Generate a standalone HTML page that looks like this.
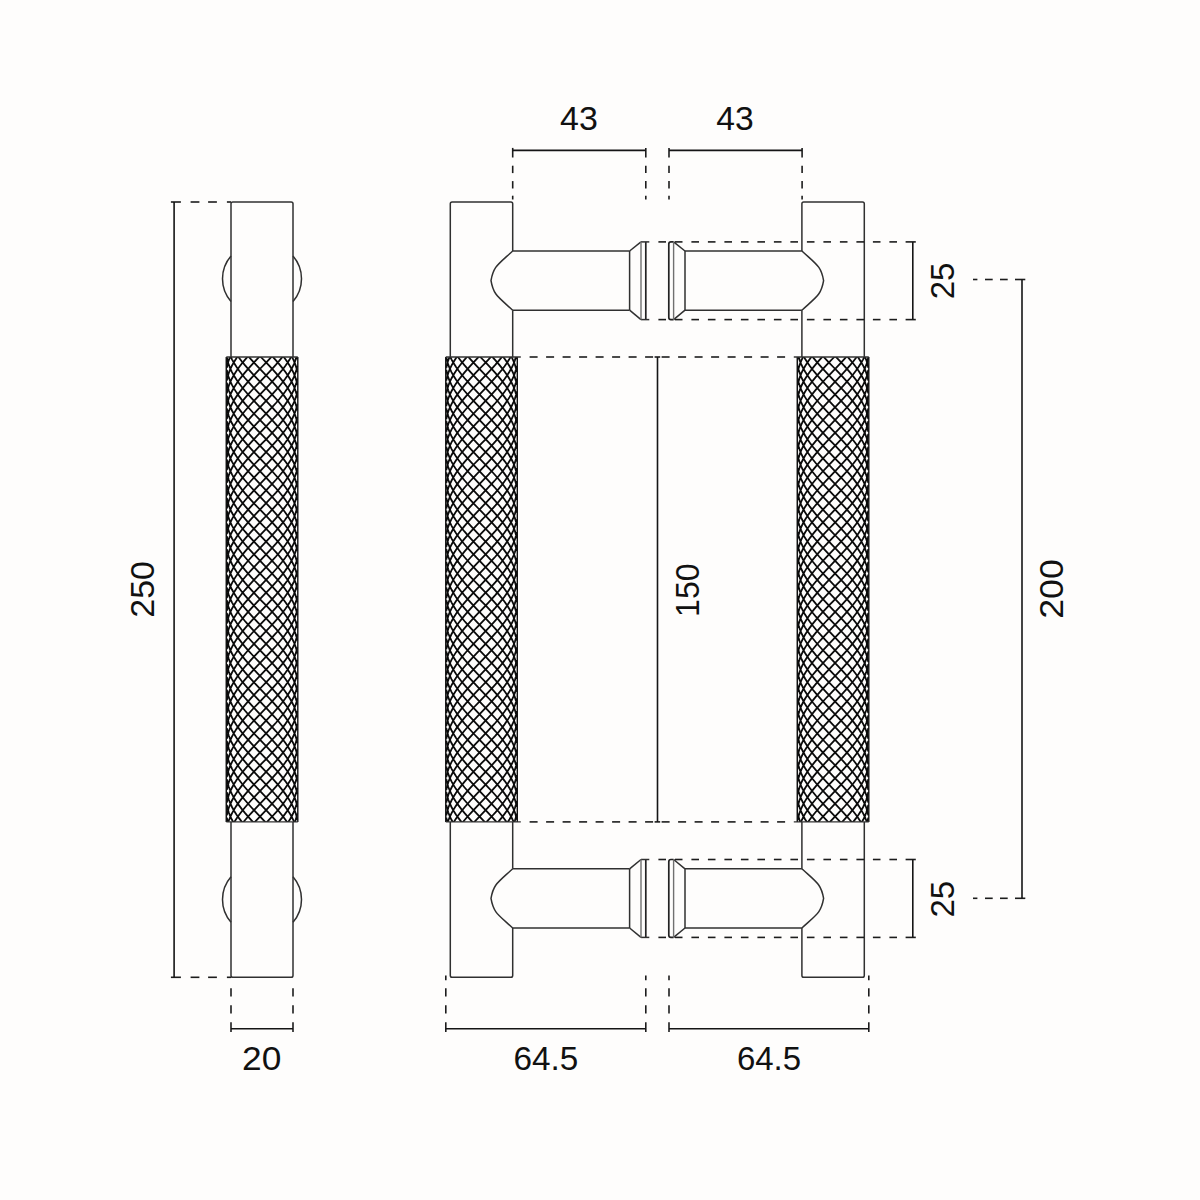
<!DOCTYPE html>
<html><head><meta charset="utf-8"><title>Drawing</title>
<style>html,body{margin:0;padding:0;background:#fefdfc;width:1200px;height:1200px;overflow:hidden}svg{display:block;font-family:"Liberation Sans",sans-serif}</style>
</head><body>
<svg width="1200" height="1200" viewBox="0 0 1200 1200">
<defs><clipPath id="kc0"><rect x="224.3" y="357" width="75.5" height="464.9"/></clipPath><clipPath id="kc1"><rect x="443.8" y="357" width="75.5" height="464.9"/></clipPath><clipPath id="kc2"><rect x="795.3" y="357" width="75.5" height="464.9"/></clipPath></defs>
<rect width="1200" height="1200" fill="#fefdfc"/>
<g fill="none" stroke="#303030" stroke-width="1.5" stroke-linecap="butt" stroke-linejoin="round"><path d="M231 357 L231 203.8 Q231 202 232.8 202 L291.2 202 Q293 202 293 203.8 L293 357"/><path d="M231 821.9 L231 975.5 Q231 977.3 232.8 977.3 L291.2 977.3 Q293 977.3 293 975.5 L293 821.9"/><path d="M231 256.05 A34.7 34.7 0 0 0 231 301.55"/><path d="M293 256.05 A34.7 34.7 0 0 1 293 301.55"/><path d="M231 876.65 A34.7 34.7 0 0 0 231 922.15"/><path d="M293 876.65 A34.7 34.7 0 0 1 293 922.15"/><path d="M450.3 357 L450.3 203.8 Q450.3 202 452.1 202 L510.9 202 Q512.7 202 512.7 203.8 L512.7 251"/><line x1="512.7" y1="310.2" x2="512.7" y2="357"/><path d="M450.3 821.9 L450.3 975.5 Q450.3 977.3 452.1 977.3 L510.9 977.3 Q512.7 977.3 512.7 975.5 L512.7 928"/><line x1="512.7" y1="821.9" x2="512.7" y2="868.8"/><path d="M512.7 251 C497.6 264.85 493.5 266.3 491 280.6 C493.5 294.9 497.6 296.35 512.7 310.2"/><line x1="512.7" y1="251" x2="629.6" y2="251"/><line x1="512.7" y1="310.2" x2="629.6" y2="310.2"/><line x1="629.6" y1="251" x2="629.6" y2="310.2"/><path d="M629.6 251 L641 241.9"/><path d="M629.6 310.2 L641 319.6"/><line x1="645.8" y1="241.9" x2="645.8" y2="319.6" stroke="#222" stroke-width="1.7"/><line x1="641" y1="241.9" x2="649.3" y2="241.9"/><line x1="641" y1="319.6" x2="649.3" y2="319.6"/><path d="M512.7 868.8 C497.6 882.65 493.5 884.1 491 898.4 C493.5 912.7 497.6 914.15 512.7 928"/><line x1="512.7" y1="868.8" x2="629.6" y2="868.8"/><line x1="512.7" y1="928" x2="629.6" y2="928"/><line x1="629.6" y1="868.8" x2="629.6" y2="928"/><path d="M629.6 868.8 L641 859.5"/><path d="M629.6 928 L641 937.4"/><line x1="645.8" y1="859.5" x2="645.8" y2="937.4" stroke="#222" stroke-width="1.7"/><line x1="641" y1="859.5" x2="649.3" y2="859.5"/><line x1="641" y1="937.4" x2="649.3" y2="937.4"/><path d="M864.3 357 L864.3 203.8 Q864.3 202 862.5 202 L803.7 202 Q801.9 202 801.9 203.8 L801.9 251"/><line x1="801.9" y1="310.2" x2="801.9" y2="357"/><path d="M864.3 821.9 L864.3 975.5 Q864.3 977.3 862.5 977.3 L803.7 977.3 Q801.9 977.3 801.9 975.5 L801.9 928"/><line x1="801.9" y1="821.9" x2="801.9" y2="868.8"/><path d="M801.9 251 C817 264.85 821.1 266.3 823.6 280.6 C821.1 294.9 817 296.35 801.9 310.2"/><line x1="801.9" y1="251" x2="685" y2="251"/><line x1="801.9" y1="310.2" x2="685" y2="310.2"/><line x1="685" y1="251" x2="685" y2="310.2"/><path d="M685 251 L673.6 241.9"/><path d="M685 310.2 L673.6 319.6"/><path d="M673.6 241.9 H671 Q668.8 241.9 668.8 244.1 V317.4 Q668.8 319.6 671 319.6 H673.6" stroke="#222" stroke-width="1.7"/><path d="M801.9 868.8 C817 882.65 821.1 884.1 823.6 898.4 C821.1 912.7 817 914.15 801.9 928"/><line x1="801.9" y1="868.8" x2="685" y2="868.8"/><line x1="801.9" y1="928" x2="685" y2="928"/><line x1="685" y1="868.8" x2="685" y2="928"/><path d="M685 868.8 L673.6 859.5"/><path d="M685 928 L673.6 937.4"/><path d="M673.6 859.5 H671 Q668.8 859.5 668.8 861.7 V935.2 Q668.8 937.4 671 937.4 H673.6" stroke="#222" stroke-width="1.7"/></g>
<g fill="none" stroke="#707070" stroke-width="1.4"><line x1="641" y1="241.9" x2="641" y2="319.6"/><line x1="641" y1="859.5" x2="641" y2="937.4"/><line x1="673.6" y1="241.9" x2="673.6" y2="319.6"/><line x1="673.6" y1="859.5" x2="673.6" y2="937.4"/></g>
<g fill="none" stroke="#1c1c1c" stroke-width="1.6"><line x1="170.9" y1="202" x2="180.9" y2="202"/><line x1="190.6" y1="202" x2="199.4" y2="202"/><line x1="208.1" y1="202" x2="216.9" y2="202"/><line x1="226.9" y1="202" x2="231" y2="202"/><line x1="170.9" y1="977.3" x2="180.9" y2="977.3"/><line x1="190.6" y1="977.3" x2="199.4" y2="977.3"/><line x1="208.1" y1="977.3" x2="216.9" y2="977.3"/><line x1="226.9" y1="977.3" x2="231" y2="977.3"/><line x1="512.7" y1="147.9" x2="512.7" y2="157.5"/><line x1="512.7" y1="165.7" x2="512.7" y2="173.1"/><line x1="512.7" y1="181.1" x2="512.7" y2="188.5"/><line x1="512.7" y1="195.7" x2="512.7" y2="199.5"/><line x1="645.8" y1="147.9" x2="645.8" y2="157.5"/><line x1="645.8" y1="165.7" x2="645.8" y2="173.1"/><line x1="645.8" y1="181.1" x2="645.8" y2="188.5"/><line x1="645.8" y1="195.7" x2="645.8" y2="199.5"/><line x1="669" y1="147.9" x2="669" y2="157.5"/><line x1="669" y1="165.7" x2="669" y2="173.1"/><line x1="669" y1="181.1" x2="669" y2="188.5"/><line x1="669" y1="195.7" x2="669" y2="199.5"/><line x1="802.1" y1="147.9" x2="802.1" y2="157.5"/><line x1="802.1" y1="165.7" x2="802.1" y2="173.1"/><line x1="802.1" y1="181.1" x2="802.1" y2="188.5"/><line x1="802.1" y1="195.7" x2="802.1" y2="199.5"/><line x1="231" y1="988.3" x2="231" y2="996.6"/><line x1="231" y1="1005.3" x2="231" y2="1013.5"/><line x1="231" y1="1022.2" x2="231" y2="1031.9"/><line x1="293" y1="988.3" x2="293" y2="996.6"/><line x1="293" y1="1005.3" x2="293" y2="1013.5"/><line x1="293" y1="1022.2" x2="293" y2="1031.9"/><line x1="445.8" y1="975.5" x2="445.8" y2="980.2"/><line x1="445.8" y1="988.3" x2="445.8" y2="996.6"/><line x1="445.8" y1="1005.3" x2="445.8" y2="1013.5"/><line x1="445.8" y1="1022.2" x2="445.8" y2="1031.9"/><line x1="645.8" y1="975.5" x2="645.8" y2="980.2"/><line x1="645.8" y1="988.3" x2="645.8" y2="996.6"/><line x1="645.8" y1="1005.3" x2="645.8" y2="1013.5"/><line x1="645.8" y1="1022.2" x2="645.8" y2="1031.9"/><line x1="669" y1="975.5" x2="669" y2="980.2"/><line x1="669" y1="988.3" x2="669" y2="996.6"/><line x1="669" y1="1005.3" x2="669" y2="1013.5"/><line x1="669" y1="1022.2" x2="669" y2="1031.9"/><line x1="868.8" y1="975.5" x2="868.8" y2="980.2"/><line x1="868.8" y1="988.3" x2="868.8" y2="996.6"/><line x1="868.8" y1="1005.3" x2="868.8" y2="1013.5"/><line x1="868.8" y1="1022.2" x2="868.8" y2="1031.9"/><line x1="658.4" y1="241.9" x2="666" y2="241.9"/><line x1="674.9" y1="241.9" x2="682.5" y2="241.9"/><line x1="691.4" y1="241.9" x2="699" y2="241.9"/><line x1="707.9" y1="241.9" x2="715.5" y2="241.9"/><line x1="724.4" y1="241.9" x2="732" y2="241.9"/><line x1="740.9" y1="241.9" x2="748.5" y2="241.9"/><line x1="757.4" y1="241.9" x2="765" y2="241.9"/><line x1="773.9" y1="241.9" x2="781.5" y2="241.9"/><line x1="790.4" y1="241.9" x2="798" y2="241.9"/><line x1="806.9" y1="241.9" x2="814.5" y2="241.9"/><line x1="823.4" y1="241.9" x2="831" y2="241.9"/><line x1="839.9" y1="241.9" x2="847.5" y2="241.9"/><line x1="856.4" y1="241.9" x2="864" y2="241.9"/><line x1="872.9" y1="241.9" x2="880.5" y2="241.9"/><line x1="889.4" y1="241.9" x2="897" y2="241.9"/><line x1="905.6" y1="241.9" x2="915.8" y2="241.9"/><line x1="658.4" y1="319.6" x2="666" y2="319.6"/><line x1="674.9" y1="319.6" x2="682.5" y2="319.6"/><line x1="691.4" y1="319.6" x2="699" y2="319.6"/><line x1="707.9" y1="319.6" x2="715.5" y2="319.6"/><line x1="724.4" y1="319.6" x2="732" y2="319.6"/><line x1="740.9" y1="319.6" x2="748.5" y2="319.6"/><line x1="757.4" y1="319.6" x2="765" y2="319.6"/><line x1="773.9" y1="319.6" x2="781.5" y2="319.6"/><line x1="790.4" y1="319.6" x2="798" y2="319.6"/><line x1="806.9" y1="319.6" x2="814.5" y2="319.6"/><line x1="823.4" y1="319.6" x2="831" y2="319.6"/><line x1="839.9" y1="319.6" x2="847.5" y2="319.6"/><line x1="856.4" y1="319.6" x2="864" y2="319.6"/><line x1="872.9" y1="319.6" x2="880.5" y2="319.6"/><line x1="889.4" y1="319.6" x2="897" y2="319.6"/><line x1="905.6" y1="319.6" x2="915.8" y2="319.6"/><line x1="658.4" y1="859.5" x2="666" y2="859.5"/><line x1="674.9" y1="859.5" x2="682.5" y2="859.5"/><line x1="691.4" y1="859.5" x2="699" y2="859.5"/><line x1="707.9" y1="859.5" x2="715.5" y2="859.5"/><line x1="724.4" y1="859.5" x2="732" y2="859.5"/><line x1="740.9" y1="859.5" x2="748.5" y2="859.5"/><line x1="757.4" y1="859.5" x2="765" y2="859.5"/><line x1="773.9" y1="859.5" x2="781.5" y2="859.5"/><line x1="790.4" y1="859.5" x2="798" y2="859.5"/><line x1="806.9" y1="859.5" x2="814.5" y2="859.5"/><line x1="823.4" y1="859.5" x2="831" y2="859.5"/><line x1="839.9" y1="859.5" x2="847.5" y2="859.5"/><line x1="856.4" y1="859.5" x2="864" y2="859.5"/><line x1="872.9" y1="859.5" x2="880.5" y2="859.5"/><line x1="889.4" y1="859.5" x2="897" y2="859.5"/><line x1="905.6" y1="859.5" x2="915.8" y2="859.5"/><line x1="658.4" y1="937.4" x2="666" y2="937.4"/><line x1="674.9" y1="937.4" x2="682.5" y2="937.4"/><line x1="691.4" y1="937.4" x2="699" y2="937.4"/><line x1="707.9" y1="937.4" x2="715.5" y2="937.4"/><line x1="724.4" y1="937.4" x2="732" y2="937.4"/><line x1="740.9" y1="937.4" x2="748.5" y2="937.4"/><line x1="757.4" y1="937.4" x2="765" y2="937.4"/><line x1="773.9" y1="937.4" x2="781.5" y2="937.4"/><line x1="790.4" y1="937.4" x2="798" y2="937.4"/><line x1="806.9" y1="937.4" x2="814.5" y2="937.4"/><line x1="823.4" y1="937.4" x2="831" y2="937.4"/><line x1="839.9" y1="937.4" x2="847.5" y2="937.4"/><line x1="856.4" y1="937.4" x2="864" y2="937.4"/><line x1="872.9" y1="937.4" x2="880.5" y2="937.4"/><line x1="889.4" y1="937.4" x2="897" y2="937.4"/><line x1="905.6" y1="937.4" x2="915.8" y2="937.4"/><line x1="529.6" y1="357" x2="537.6" y2="357"/><line x1="546.1" y1="357" x2="554.1" y2="357"/><line x1="562.6" y1="357" x2="570.6" y2="357"/><line x1="579.1" y1="357" x2="587.1" y2="357"/><line x1="595.6" y1="357" x2="603.6" y2="357"/><line x1="612.1" y1="357" x2="620.1" y2="357"/><line x1="628.6" y1="357" x2="636.6" y2="357"/><line x1="645.1" y1="357" x2="653.1" y2="357"/><line x1="661.6" y1="357" x2="669.6" y2="357"/><line x1="678.1" y1="357" x2="686.1" y2="357"/><line x1="694.6" y1="357" x2="702.6" y2="357"/><line x1="711.1" y1="357" x2="719.1" y2="357"/><line x1="727.6" y1="357" x2="735.6" y2="357"/><line x1="744.1" y1="357" x2="752.1" y2="357"/><line x1="760.6" y1="357" x2="768.6" y2="357"/><line x1="777.1" y1="357" x2="785.1" y2="357"/><line x1="654.6" y1="357" x2="660.2" y2="357"/><line x1="529.6" y1="821.9" x2="537.6" y2="821.9"/><line x1="546.1" y1="821.9" x2="554.1" y2="821.9"/><line x1="562.6" y1="821.9" x2="570.6" y2="821.9"/><line x1="579.1" y1="821.9" x2="587.1" y2="821.9"/><line x1="595.6" y1="821.9" x2="603.6" y2="821.9"/><line x1="612.1" y1="821.9" x2="620.1" y2="821.9"/><line x1="628.6" y1="821.9" x2="636.6" y2="821.9"/><line x1="645.1" y1="821.9" x2="653.1" y2="821.9"/><line x1="661.6" y1="821.9" x2="669.6" y2="821.9"/><line x1="678.1" y1="821.9" x2="686.1" y2="821.9"/><line x1="694.6" y1="821.9" x2="702.6" y2="821.9"/><line x1="711.1" y1="821.9" x2="719.1" y2="821.9"/><line x1="727.6" y1="821.9" x2="735.6" y2="821.9"/><line x1="744.1" y1="821.9" x2="752.1" y2="821.9"/><line x1="760.6" y1="821.9" x2="768.6" y2="821.9"/><line x1="777.1" y1="821.9" x2="785.1" y2="821.9"/><line x1="654.6" y1="821.9" x2="660.2" y2="821.9"/><line x1="973" y1="279.5" x2="977.4" y2="279.5"/><line x1="985" y1="279.5" x2="992.7" y2="279.5"/><line x1="1000" y1="279.5" x2="1007.7" y2="279.5"/><line x1="1015" y1="279.5" x2="1025.3" y2="279.5"/><line x1="973" y1="898.3" x2="977.4" y2="898.3"/><line x1="985" y1="898.3" x2="992.7" y2="898.3"/><line x1="1000" y1="898.3" x2="1007.7" y2="898.3"/><line x1="1015" y1="898.3" x2="1025.3" y2="898.3"/></g>
<g fill="none" stroke="#151515" stroke-width="1.6"><line x1="174.1" y1="202" x2="174.1" y2="977.3"/><line x1="231" y1="1028.7" x2="293" y2="1028.7"/><line x1="512.7" y1="150.4" x2="645.8" y2="150.4"/><line x1="669" y1="150.4" x2="802.1" y2="150.4"/><line x1="657.5" y1="357" x2="657.5" y2="821.9"/><line x1="912.8" y1="241.9" x2="912.8" y2="319.6"/><line x1="912.8" y1="859.5" x2="912.8" y2="937.4"/><line x1="1022" y1="279.5" x2="1022" y2="898.3"/><line x1="445.8" y1="1028.8" x2="645.8" y2="1028.8"/><line x1="669" y1="1028.8" x2="868.8" y2="1028.8"/></g>
<g fill="none" stroke="#0a0a0a" stroke-width="1.8"><g clip-path="url(#kc0)"><path d="M226.82 254.89 227.6 258.61 228.73 262.34 230.19 266.07 231.97 269.8 234.05 273.53 236.4 277.26 239.02 280.99 241.86 284.72 244.91 288.44 248.13 292.17 251.49 295.9 254.95 299.63 258.48 303.36 262.05 307.09 265.62 310.82 269.15 314.55 272.61 318.28 275.97 322 279.19 325.73 282.24 329.46 285.08 333.19 287.7 336.92 290.05 340.65 292.13 344.38 293.91 348.11 295.37 351.84 296.5 355.56 297.28 359.29 M226.82 267.68 227.6 271.4 228.73 275.13 230.19 278.86 231.97 282.59 234.05 286.32 236.4 290.05 239.02 293.78 241.86 297.51 244.91 301.23 248.13 304.96 251.49 308.69 254.95 312.42 258.48 316.15 262.05 319.88 265.62 323.61 269.15 327.34 272.61 331.07 275.97 334.79 279.19 338.52 282.24 342.25 285.08 345.98 287.7 349.71 290.05 353.44 292.13 357.17 293.91 360.9 295.37 364.63 296.5 368.35 297.28 372.08 M226.82 280.47 227.6 284.19 228.73 287.92 230.19 291.65 231.97 295.38 234.05 299.11 236.4 302.84 239.02 306.57 241.86 310.3 244.91 314.02 248.13 317.75 251.49 321.48 254.95 325.21 258.48 328.94 262.05 332.67 265.62 336.4 269.15 340.13 272.61 343.86 275.97 347.58 279.19 351.31 282.24 355.04 285.08 358.77 287.7 362.5 290.05 366.23 292.13 369.96 293.91 373.69 295.37 377.42 296.5 381.14 297.28 384.87 M226.82 293.26 227.6 296.98 228.73 300.71 230.19 304.44 231.97 308.17 234.05 311.9 236.4 315.63 239.02 319.36 241.86 323.09 244.91 326.81 248.13 330.54 251.49 334.27 254.95 338 258.48 341.73 262.05 345.46 265.62 349.19 269.15 352.92 272.61 356.65 275.97 360.37 279.19 364.1 282.24 367.83 285.08 371.56 287.7 375.29 290.05 379.02 292.13 382.75 293.91 386.48 295.37 390.21 296.5 393.93 297.28 397.66 M226.82 306.05 227.6 309.77 228.73 313.5 230.19 317.23 231.97 320.96 234.05 324.69 236.4 328.42 239.02 332.15 241.86 335.88 244.91 339.6 248.13 343.33 251.49 347.06 254.95 350.79 258.48 354.52 262.05 358.25 265.62 361.98 269.15 365.71 272.61 369.44 275.97 373.16 279.19 376.89 282.24 380.62 285.08 384.35 287.7 388.08 290.05 391.81 292.13 395.54 293.91 399.27 295.37 403 296.5 406.72 297.28 410.45 M226.82 318.84 227.6 322.56 228.73 326.29 230.19 330.02 231.97 333.75 234.05 337.48 236.4 341.21 239.02 344.94 241.86 348.67 244.91 352.39 248.13 356.12 251.49 359.85 254.95 363.58 258.48 367.31 262.05 371.04 265.62 374.77 269.15 378.5 272.61 382.23 275.97 385.95 279.19 389.68 282.24 393.41 285.08 397.14 287.7 400.87 290.05 404.6 292.13 408.33 293.91 412.06 295.37 415.79 296.5 419.51 297.28 423.24 M226.82 331.63 227.6 335.35 228.73 339.08 230.19 342.81 231.97 346.54 234.05 350.27 236.4 354 239.02 357.73 241.86 361.46 244.91 365.18 248.13 368.91 251.49 372.64 254.95 376.37 258.48 380.1 262.05 383.83 265.62 387.56 269.15 391.29 272.61 395.02 275.97 398.74 279.19 402.47 282.24 406.2 285.08 409.93 287.7 413.66 290.05 417.39 292.13 421.12 293.91 424.85 295.37 428.58 296.5 432.3 297.28 436.03 M226.82 344.42 227.6 348.14 228.73 351.87 230.19 355.6 231.97 359.33 234.05 363.06 236.4 366.79 239.02 370.52 241.86 374.25 244.91 377.97 248.13 381.7 251.49 385.43 254.95 389.16 258.48 392.89 262.05 396.62 265.62 400.35 269.15 404.08 272.61 407.81 275.97 411.53 279.19 415.26 282.24 418.99 285.08 422.72 287.7 426.45 290.05 430.18 292.13 433.91 293.91 437.64 295.37 441.37 296.5 445.09 297.28 448.82 M226.82 357.21 227.6 360.93 228.73 364.66 230.19 368.39 231.97 372.12 234.05 375.85 236.4 379.58 239.02 383.31 241.86 387.04 244.91 390.76 248.13 394.49 251.49 398.22 254.95 401.95 258.48 405.68 262.05 409.41 265.62 413.14 269.15 416.87 272.61 420.6 275.97 424.32 279.19 428.05 282.24 431.78 285.08 435.51 287.7 439.24 290.05 442.97 292.13 446.7 293.91 450.43 295.37 454.16 296.5 457.88 297.28 461.61 M226.82 370 227.6 373.72 228.73 377.45 230.19 381.18 231.97 384.91 234.05 388.64 236.4 392.37 239.02 396.1 241.86 399.83 244.91 403.55 248.13 407.28 251.49 411.01 254.95 414.74 258.48 418.47 262.05 422.2 265.62 425.93 269.15 429.66 272.61 433.39 275.97 437.11 279.19 440.84 282.24 444.57 285.08 448.3 287.7 452.03 290.05 455.76 292.13 459.49 293.91 463.22 295.37 466.95 296.5 470.67 297.28 474.4 M226.82 382.79 227.6 386.51 228.73 390.24 230.19 393.97 231.97 397.7 234.05 401.43 236.4 405.16 239.02 408.89 241.86 412.62 244.91 416.34 248.13 420.07 251.49 423.8 254.95 427.53 258.48 431.26 262.05 434.99 265.62 438.72 269.15 442.45 272.61 446.18 275.97 449.9 279.19 453.63 282.24 457.36 285.08 461.09 287.7 464.82 290.05 468.55 292.13 472.28 293.91 476.01 295.37 479.74 296.5 483.46 297.28 487.19 M226.82 395.58 227.6 399.3 228.73 403.03 230.19 406.76 231.97 410.49 234.05 414.22 236.4 417.95 239.02 421.68 241.86 425.41 244.91 429.13 248.13 432.86 251.49 436.59 254.95 440.32 258.48 444.05 262.05 447.78 265.62 451.51 269.15 455.24 272.61 458.97 275.97 462.69 279.19 466.42 282.24 470.15 285.08 473.88 287.7 477.61 290.05 481.34 292.13 485.07 293.91 488.8 295.37 492.53 296.5 496.25 297.28 499.98 M226.82 408.37 227.6 412.09 228.73 415.82 230.19 419.55 231.97 423.28 234.05 427.01 236.4 430.74 239.02 434.47 241.86 438.2 244.91 441.92 248.13 445.65 251.49 449.38 254.95 453.11 258.48 456.84 262.05 460.57 265.62 464.3 269.15 468.03 272.61 471.76 275.97 475.48 279.19 479.21 282.24 482.94 285.08 486.67 287.7 490.4 290.05 494.13 292.13 497.86 293.91 501.59 295.37 505.32 296.5 509.04 297.28 512.77 M226.82 421.16 227.6 424.88 228.73 428.61 230.19 432.34 231.97 436.07 234.05 439.8 236.4 443.53 239.02 447.26 241.86 450.99 244.91 454.71 248.13 458.44 251.49 462.17 254.95 465.9 258.48 469.63 262.05 473.36 265.62 477.09 269.15 480.82 272.61 484.55 275.97 488.27 279.19 492 282.24 495.73 285.08 499.46 287.7 503.19 290.05 506.92 292.13 510.65 293.91 514.38 295.37 518.11 296.5 521.83 297.28 525.56 M226.82 433.95 227.6 437.67 228.73 441.4 230.19 445.13 231.97 448.86 234.05 452.59 236.4 456.32 239.02 460.05 241.86 463.78 244.91 467.5 248.13 471.23 251.49 474.96 254.95 478.69 258.48 482.42 262.05 486.15 265.62 489.88 269.15 493.61 272.61 497.34 275.97 501.06 279.19 504.79 282.24 508.52 285.08 512.25 287.7 515.98 290.05 519.71 292.13 523.44 293.91 527.17 295.37 530.9 296.5 534.62 297.28 538.35 M226.82 446.74 227.6 450.46 228.73 454.19 230.19 457.92 231.97 461.65 234.05 465.38 236.4 469.11 239.02 472.84 241.86 476.57 244.91 480.29 248.13 484.02 251.49 487.75 254.95 491.48 258.48 495.21 262.05 498.94 265.62 502.67 269.15 506.4 272.61 510.13 275.97 513.85 279.19 517.58 282.24 521.31 285.08 525.04 287.7 528.77 290.05 532.5 292.13 536.23 293.91 539.96 295.37 543.69 296.5 547.41 297.28 551.14 M226.82 459.53 227.6 463.25 228.73 466.98 230.19 470.71 231.97 474.44 234.05 478.17 236.4 481.9 239.02 485.63 241.86 489.36 244.91 493.08 248.13 496.81 251.49 500.54 254.95 504.27 258.48 508 262.05 511.73 265.62 515.46 269.15 519.19 272.61 522.92 275.97 526.64 279.19 530.37 282.24 534.1 285.08 537.83 287.7 541.56 290.05 545.29 292.13 549.02 293.91 552.75 295.37 556.48 296.5 560.2 297.28 563.93 M226.82 472.32 227.6 476.04 228.73 479.77 230.19 483.5 231.97 487.23 234.05 490.96 236.4 494.69 239.02 498.42 241.86 502.15 244.91 505.87 248.13 509.6 251.49 513.33 254.95 517.06 258.48 520.79 262.05 524.52 265.62 528.25 269.15 531.98 272.61 535.71 275.97 539.43 279.19 543.16 282.24 546.89 285.08 550.62 287.7 554.35 290.05 558.08 292.13 561.81 293.91 565.54 295.37 569.27 296.5 572.99 297.28 576.72 M226.82 485.11 227.6 488.83 228.73 492.56 230.19 496.29 231.97 500.02 234.05 503.75 236.4 507.48 239.02 511.21 241.86 514.94 244.91 518.66 248.13 522.39 251.49 526.12 254.95 529.85 258.48 533.58 262.05 537.31 265.62 541.04 269.15 544.77 272.61 548.5 275.97 552.22 279.19 555.95 282.24 559.68 285.08 563.41 287.7 567.14 290.05 570.87 292.13 574.6 293.91 578.33 295.37 582.06 296.5 585.78 297.28 589.51 M226.82 497.9 227.6 501.62 228.73 505.35 230.19 509.08 231.97 512.81 234.05 516.54 236.4 520.27 239.02 524 241.86 527.73 244.91 531.45 248.13 535.18 251.49 538.91 254.95 542.64 258.48 546.37 262.05 550.1 265.62 553.83 269.15 557.56 272.61 561.29 275.97 565.01 279.19 568.74 282.24 572.47 285.08 576.2 287.7 579.93 290.05 583.66 292.13 587.39 293.91 591.12 295.37 594.85 296.5 598.57 297.28 602.3 M226.82 510.69 227.6 514.41 228.73 518.14 230.19 521.87 231.97 525.6 234.05 529.33 236.4 533.06 239.02 536.79 241.86 540.52 244.91 544.24 248.13 547.97 251.49 551.7 254.95 555.43 258.48 559.16 262.05 562.89 265.62 566.62 269.15 570.35 272.61 574.08 275.97 577.8 279.19 581.53 282.24 585.26 285.08 588.99 287.7 592.72 290.05 596.45 292.13 600.18 293.91 603.91 295.37 607.64 296.5 611.36 297.28 615.09 M226.82 523.48 227.6 527.2 228.73 530.93 230.19 534.66 231.97 538.39 234.05 542.12 236.4 545.85 239.02 549.58 241.86 553.31 244.91 557.03 248.13 560.76 251.49 564.49 254.95 568.22 258.48 571.95 262.05 575.68 265.62 579.41 269.15 583.14 272.61 586.87 275.97 590.59 279.19 594.32 282.24 598.05 285.08 601.78 287.7 605.51 290.05 609.24 292.13 612.97 293.91 616.7 295.37 620.43 296.5 624.15 297.28 627.88 M226.82 536.27 227.6 539.99 228.73 543.72 230.19 547.45 231.97 551.18 234.05 554.91 236.4 558.64 239.02 562.37 241.86 566.1 244.91 569.82 248.13 573.55 251.49 577.28 254.95 581.01 258.48 584.74 262.05 588.47 265.62 592.2 269.15 595.93 272.61 599.66 275.97 603.38 279.19 607.11 282.24 610.84 285.08 614.57 287.7 618.3 290.05 622.03 292.13 625.76 293.91 629.49 295.37 633.22 296.5 636.94 297.28 640.67 M226.82 549.06 227.6 552.78 228.73 556.51 230.19 560.24 231.97 563.97 234.05 567.7 236.4 571.43 239.02 575.16 241.86 578.89 244.91 582.61 248.13 586.34 251.49 590.07 254.95 593.8 258.48 597.53 262.05 601.26 265.62 604.99 269.15 608.72 272.61 612.45 275.97 616.17 279.19 619.9 282.24 623.63 285.08 627.36 287.7 631.09 290.05 634.82 292.13 638.55 293.91 642.28 295.37 646.01 296.5 649.73 297.28 653.46 M226.82 561.85 227.6 565.57 228.73 569.3 230.19 573.03 231.97 576.76 234.05 580.49 236.4 584.22 239.02 587.95 241.86 591.68 244.91 595.4 248.13 599.13 251.49 602.86 254.95 606.59 258.48 610.32 262.05 614.05 265.62 617.78 269.15 621.51 272.61 625.24 275.97 628.96 279.19 632.69 282.24 636.42 285.08 640.15 287.7 643.88 290.05 647.61 292.13 651.34 293.91 655.07 295.37 658.8 296.5 662.52 297.28 666.25 M226.82 574.64 227.6 578.36 228.73 582.09 230.19 585.82 231.97 589.55 234.05 593.28 236.4 597.01 239.02 600.74 241.86 604.47 244.91 608.19 248.13 611.92 251.49 615.65 254.95 619.38 258.48 623.11 262.05 626.84 265.62 630.57 269.15 634.3 272.61 638.03 275.97 641.75 279.19 645.48 282.24 649.21 285.08 652.94 287.7 656.67 290.05 660.4 292.13 664.13 293.91 667.86 295.37 671.59 296.5 675.31 297.28 679.04 M226.82 587.43 227.6 591.15 228.73 594.88 230.19 598.61 231.97 602.34 234.05 606.07 236.4 609.8 239.02 613.53 241.86 617.26 244.91 620.98 248.13 624.71 251.49 628.44 254.95 632.17 258.48 635.9 262.05 639.63 265.62 643.36 269.15 647.09 272.61 650.82 275.97 654.54 279.19 658.27 282.24 662 285.08 665.73 287.7 669.46 290.05 673.19 292.13 676.92 293.91 680.65 295.37 684.38 296.5 688.1 297.28 691.83 M226.82 600.22 227.6 603.94 228.73 607.67 230.19 611.4 231.97 615.13 234.05 618.86 236.4 622.59 239.02 626.32 241.86 630.05 244.91 633.77 248.13 637.5 251.49 641.23 254.95 644.96 258.48 648.69 262.05 652.42 265.62 656.15 269.15 659.88 272.61 663.61 275.97 667.33 279.19 671.06 282.24 674.79 285.08 678.52 287.7 682.25 290.05 685.98 292.13 689.71 293.91 693.44 295.37 697.17 296.5 700.89 297.28 704.62 M226.82 613.01 227.6 616.73 228.73 620.46 230.19 624.19 231.97 627.92 234.05 631.65 236.4 635.38 239.02 639.11 241.86 642.84 244.91 646.56 248.13 650.29 251.49 654.02 254.95 657.75 258.48 661.48 262.05 665.21 265.62 668.94 269.15 672.67 272.61 676.4 275.97 680.12 279.19 683.85 282.24 687.58 285.08 691.31 287.7 695.04 290.05 698.77 292.13 702.5 293.91 706.23 295.37 709.96 296.5 713.68 297.28 717.41 M226.82 625.8 227.6 629.52 228.73 633.25 230.19 636.98 231.97 640.71 234.05 644.44 236.4 648.17 239.02 651.9 241.86 655.63 244.91 659.35 248.13 663.08 251.49 666.81 254.95 670.54 258.48 674.27 262.05 678 265.62 681.73 269.15 685.46 272.61 689.19 275.97 692.91 279.19 696.64 282.24 700.37 285.08 704.1 287.7 707.83 290.05 711.56 292.13 715.29 293.91 719.02 295.37 722.75 296.5 726.47 297.28 730.2 M226.82 638.59 227.6 642.31 228.73 646.04 230.19 649.77 231.97 653.5 234.05 657.23 236.4 660.96 239.02 664.69 241.86 668.42 244.91 672.14 248.13 675.87 251.49 679.6 254.95 683.33 258.48 687.06 262.05 690.79 265.62 694.52 269.15 698.25 272.61 701.98 275.97 705.7 279.19 709.43 282.24 713.16 285.08 716.89 287.7 720.62 290.05 724.35 292.13 728.08 293.91 731.81 295.37 735.54 296.5 739.26 297.28 742.99 M226.82 651.38 227.6 655.1 228.73 658.83 230.19 662.56 231.97 666.29 234.05 670.02 236.4 673.75 239.02 677.48 241.86 681.21 244.91 684.93 248.13 688.66 251.49 692.39 254.95 696.12 258.48 699.85 262.05 703.58 265.62 707.31 269.15 711.04 272.61 714.77 275.97 718.49 279.19 722.22 282.24 725.95 285.08 729.68 287.7 733.41 290.05 737.14 292.13 740.87 293.91 744.6 295.37 748.33 296.5 752.05 297.28 755.78 M226.82 664.17 227.6 667.89 228.73 671.62 230.19 675.35 231.97 679.08 234.05 682.81 236.4 686.54 239.02 690.27 241.86 694 244.91 697.72 248.13 701.45 251.49 705.18 254.95 708.91 258.48 712.64 262.05 716.37 265.62 720.1 269.15 723.83 272.61 727.56 275.97 731.28 279.19 735.01 282.24 738.74 285.08 742.47 287.7 746.2 290.05 749.93 292.13 753.66 293.91 757.39 295.37 761.12 296.5 764.84 297.28 768.57 M226.82 676.96 227.6 680.68 228.73 684.41 230.19 688.14 231.97 691.87 234.05 695.6 236.4 699.33 239.02 703.06 241.86 706.79 244.91 710.51 248.13 714.24 251.49 717.97 254.95 721.7 258.48 725.43 262.05 729.16 265.62 732.89 269.15 736.62 272.61 740.35 275.97 744.07 279.19 747.8 282.24 751.53 285.08 755.26 287.7 758.99 290.05 762.72 292.13 766.45 293.91 770.18 295.37 773.91 296.5 777.63 297.28 781.36 M226.82 689.75 227.6 693.47 228.73 697.2 230.19 700.93 231.97 704.66 234.05 708.39 236.4 712.12 239.02 715.85 241.86 719.58 244.91 723.3 248.13 727.03 251.49 730.76 254.95 734.49 258.48 738.22 262.05 741.95 265.62 745.68 269.15 749.41 272.61 753.14 275.97 756.86 279.19 760.59 282.24 764.32 285.08 768.05 287.7 771.78 290.05 775.51 292.13 779.24 293.91 782.97 295.37 786.7 296.5 790.42 297.28 794.15 M226.82 702.54 227.6 706.26 228.73 709.99 230.19 713.72 231.97 717.45 234.05 721.18 236.4 724.91 239.02 728.64 241.86 732.37 244.91 736.09 248.13 739.82 251.49 743.55 254.95 747.28 258.48 751.01 262.05 754.74 265.62 758.47 269.15 762.2 272.61 765.93 275.97 769.65 279.19 773.38 282.24 777.11 285.08 780.84 287.7 784.57 290.05 788.3 292.13 792.03 293.91 795.76 295.37 799.49 296.5 803.21 297.28 806.94 M226.82 715.33 227.6 719.05 228.73 722.78 230.19 726.51 231.97 730.24 234.05 733.97 236.4 737.7 239.02 741.43 241.86 745.16 244.91 748.88 248.13 752.61 251.49 756.34 254.95 760.07 258.48 763.8 262.05 767.53 265.62 771.26 269.15 774.99 272.61 778.72 275.97 782.44 279.19 786.17 282.24 789.9 285.08 793.63 287.7 797.36 290.05 801.09 292.13 804.82 293.91 808.55 295.37 812.28 296.5 816 297.28 819.73 M226.82 728.12 227.6 731.84 228.73 735.57 230.19 739.3 231.97 743.03 234.05 746.76 236.4 750.49 239.02 754.22 241.86 757.95 244.91 761.67 248.13 765.4 251.49 769.13 254.95 772.86 258.48 776.59 262.05 780.32 265.62 784.05 269.15 787.78 272.61 791.51 275.97 795.23 279.19 798.96 282.24 802.69 285.08 806.42 287.7 810.15 290.05 813.88 292.13 817.61 293.91 821.34 295.37 825.07 296.5 828.79 297.28 832.52 M226.82 740.91 227.6 744.63 228.73 748.36 230.19 752.09 231.97 755.82 234.05 759.55 236.4 763.28 239.02 767.01 241.86 770.74 244.91 774.46 248.13 778.19 251.49 781.92 254.95 785.65 258.48 789.38 262.05 793.11 265.62 796.84 269.15 800.57 272.61 804.3 275.97 808.02 279.19 811.75 282.24 815.48 285.08 819.21 287.7 822.94 290.05 826.67 292.13 830.4 293.91 834.13 295.37 837.86 296.5 841.58 297.28 845.31 M226.82 753.7 227.6 757.42 228.73 761.15 230.19 764.88 231.97 768.61 234.05 772.34 236.4 776.07 239.02 779.8 241.86 783.53 244.91 787.25 248.13 790.98 251.49 794.71 254.95 798.44 258.48 802.17 262.05 805.9 265.62 809.63 269.15 813.36 272.61 817.09 275.97 820.81 279.19 824.54 282.24 828.27 285.08 832 287.7 835.73 290.05 839.46 292.13 843.19 293.91 846.92 295.37 850.65 296.5 854.37 297.28 858.1 M226.82 766.49 227.6 770.21 228.73 773.94 230.19 777.67 231.97 781.4 234.05 785.13 236.4 788.86 239.02 792.59 241.86 796.32 244.91 800.04 248.13 803.77 251.49 807.5 254.95 811.23 258.48 814.96 262.05 818.69 265.62 822.42 269.15 826.15 272.61 829.88 275.97 833.6 279.19 837.33 282.24 841.06 285.08 844.79 287.7 848.52 290.05 852.25 292.13 855.98 293.91 859.71 295.37 863.44 296.5 867.16 297.28 870.89 M226.82 779.28 227.6 783 228.73 786.73 230.19 790.46 231.97 794.19 234.05 797.92 236.4 801.65 239.02 805.38 241.86 809.11 244.91 812.83 248.13 816.56 251.49 820.29 254.95 824.02 258.48 827.75 262.05 831.48 265.62 835.21 269.15 838.94 272.61 842.67 275.97 846.39 279.19 850.12 282.24 853.85 285.08 857.58 287.7 861.31 290.05 865.04 292.13 868.77 293.91 872.5 295.37 876.23 296.5 879.95 297.28 883.68 M226.82 792.07 227.6 795.79 228.73 799.52 230.19 803.25 231.97 806.98 234.05 810.71 236.4 814.44 239.02 818.17 241.86 821.9 244.91 825.62 248.13 829.35 251.49 833.08 254.95 836.81 258.48 840.54 262.05 844.27 265.62 848 269.15 851.73 272.61 855.46 275.97 859.18 279.19 862.91 282.24 866.64 285.08 870.37 287.7 874.1 290.05 877.83 292.13 881.56 293.91 885.29 295.37 889.02 296.5 892.74 297.28 896.47 M226.82 804.86 227.6 808.58 228.73 812.31 230.19 816.04 231.97 819.77 234.05 823.5 236.4 827.23 239.02 830.96 241.86 834.69 244.91 838.41 248.13 842.14 251.49 845.87 254.95 849.6 258.48 853.33 262.05 857.06 265.62 860.79 269.15 864.52 272.61 868.25 275.97 871.97 279.19 875.7 282.24 879.43 285.08 883.16 287.7 886.89 290.05 890.62 292.13 894.35 293.91 898.08 295.37 901.81 296.5 905.53 297.28 909.26 M226.82 817.65 227.6 821.37 228.73 825.1 230.19 828.83 231.97 832.56 234.05 836.29 236.4 840.02 239.02 843.75 241.86 847.48 244.91 851.2 248.13 854.93 251.49 858.66 254.95 862.39 258.48 866.12 262.05 869.85 265.62 873.58 269.15 877.31 272.61 881.04 275.97 884.76 279.19 888.49 282.24 892.22 285.08 895.95 287.7 899.68 290.05 903.41 292.13 907.14 293.91 910.87 295.37 914.6 296.5 918.32 297.28 922.05 M226.82 355 227.6 351.28 228.73 347.55 230.19 343.82 231.97 340.09 234.05 336.36 236.4 332.63 239.02 328.9 241.86 325.17 244.91 321.45 248.13 317.72 251.49 313.99 254.95 310.26 258.48 306.53 262.05 302.8 265.62 299.07 269.15 295.34 272.61 291.61 275.97 287.89 279.19 284.16 282.24 280.43 285.08 276.7 287.7 272.97 290.05 269.24 292.13 265.51 293.91 261.78 295.37 258.05 296.5 254.33 297.28 250.6 M226.82 367.79 227.6 364.07 228.73 360.34 230.19 356.61 231.97 352.88 234.05 349.15 236.4 345.42 239.02 341.69 241.86 337.96 244.91 334.24 248.13 330.51 251.49 326.78 254.95 323.05 258.48 319.32 262.05 315.59 265.62 311.86 269.15 308.13 272.61 304.4 275.97 300.68 279.19 296.95 282.24 293.22 285.08 289.49 287.7 285.76 290.05 282.03 292.13 278.3 293.91 274.57 295.37 270.84 296.5 267.12 297.28 263.39 M226.82 380.58 227.6 376.86 228.73 373.13 230.19 369.4 231.97 365.67 234.05 361.94 236.4 358.21 239.02 354.48 241.86 350.75 244.91 347.03 248.13 343.3 251.49 339.57 254.95 335.84 258.48 332.11 262.05 328.38 265.62 324.65 269.15 320.92 272.61 317.19 275.97 313.47 279.19 309.74 282.24 306.01 285.08 302.28 287.7 298.55 290.05 294.82 292.13 291.09 293.91 287.36 295.37 283.63 296.5 279.91 297.28 276.18 M226.82 393.37 227.6 389.65 228.73 385.92 230.19 382.19 231.97 378.46 234.05 374.73 236.4 371 239.02 367.27 241.86 363.54 244.91 359.82 248.13 356.09 251.49 352.36 254.95 348.63 258.48 344.9 262.05 341.17 265.62 337.44 269.15 333.71 272.61 329.98 275.97 326.26 279.19 322.53 282.24 318.8 285.08 315.07 287.7 311.34 290.05 307.61 292.13 303.88 293.91 300.15 295.37 296.42 296.5 292.7 297.28 288.97 M226.82 406.16 227.6 402.44 228.73 398.71 230.19 394.98 231.97 391.25 234.05 387.52 236.4 383.79 239.02 380.06 241.86 376.33 244.91 372.61 248.13 368.88 251.49 365.15 254.95 361.42 258.48 357.69 262.05 353.96 265.62 350.23 269.15 346.5 272.61 342.77 275.97 339.05 279.19 335.32 282.24 331.59 285.08 327.86 287.7 324.13 290.05 320.4 292.13 316.67 293.91 312.94 295.37 309.21 296.5 305.49 297.28 301.76 M226.82 418.95 227.6 415.23 228.73 411.5 230.19 407.77 231.97 404.04 234.05 400.31 236.4 396.58 239.02 392.85 241.86 389.12 244.91 385.4 248.13 381.67 251.49 377.94 254.95 374.21 258.48 370.48 262.05 366.75 265.62 363.02 269.15 359.29 272.61 355.56 275.97 351.84 279.19 348.11 282.24 344.38 285.08 340.65 287.7 336.92 290.05 333.19 292.13 329.46 293.91 325.73 295.37 322 296.5 318.28 297.28 314.55 M226.82 431.74 227.6 428.02 228.73 424.29 230.19 420.56 231.97 416.83 234.05 413.1 236.4 409.37 239.02 405.64 241.86 401.91 244.91 398.19 248.13 394.46 251.49 390.73 254.95 387 258.48 383.27 262.05 379.54 265.62 375.81 269.15 372.08 272.61 368.35 275.97 364.63 279.19 360.9 282.24 357.17 285.08 353.44 287.7 349.71 290.05 345.98 292.13 342.25 293.91 338.52 295.37 334.79 296.5 331.07 297.28 327.34 M226.82 444.53 227.6 440.81 228.73 437.08 230.19 433.35 231.97 429.62 234.05 425.89 236.4 422.16 239.02 418.43 241.86 414.7 244.91 410.98 248.13 407.25 251.49 403.52 254.95 399.79 258.48 396.06 262.05 392.33 265.62 388.6 269.15 384.87 272.61 381.14 275.97 377.42 279.19 373.69 282.24 369.96 285.08 366.23 287.7 362.5 290.05 358.77 292.13 355.04 293.91 351.31 295.37 347.58 296.5 343.86 297.28 340.13 M226.82 457.32 227.6 453.6 228.73 449.87 230.19 446.14 231.97 442.41 234.05 438.68 236.4 434.95 239.02 431.22 241.86 427.49 244.91 423.77 248.13 420.04 251.49 416.31 254.95 412.58 258.48 408.85 262.05 405.12 265.62 401.39 269.15 397.66 272.61 393.93 275.97 390.21 279.19 386.48 282.24 382.75 285.08 379.02 287.7 375.29 290.05 371.56 292.13 367.83 293.91 364.1 295.37 360.37 296.5 356.65 297.28 352.92 M226.82 470.11 227.6 466.39 228.73 462.66 230.19 458.93 231.97 455.2 234.05 451.47 236.4 447.74 239.02 444.01 241.86 440.28 244.91 436.56 248.13 432.83 251.49 429.1 254.95 425.37 258.48 421.64 262.05 417.91 265.62 414.18 269.15 410.45 272.61 406.72 275.97 403 279.19 399.27 282.24 395.54 285.08 391.81 287.7 388.08 290.05 384.35 292.13 380.62 293.91 376.89 295.37 373.16 296.5 369.44 297.28 365.71 M226.82 482.9 227.6 479.18 228.73 475.45 230.19 471.72 231.97 467.99 234.05 464.26 236.4 460.53 239.02 456.8 241.86 453.07 244.91 449.35 248.13 445.62 251.49 441.89 254.95 438.16 258.48 434.43 262.05 430.7 265.62 426.97 269.15 423.24 272.61 419.51 275.97 415.79 279.19 412.06 282.24 408.33 285.08 404.6 287.7 400.87 290.05 397.14 292.13 393.41 293.91 389.68 295.37 385.95 296.5 382.23 297.28 378.5 M226.82 495.69 227.6 491.97 228.73 488.24 230.19 484.51 231.97 480.78 234.05 477.05 236.4 473.32 239.02 469.59 241.86 465.86 244.91 462.14 248.13 458.41 251.49 454.68 254.95 450.95 258.48 447.22 262.05 443.49 265.62 439.76 269.15 436.03 272.61 432.3 275.97 428.58 279.19 424.85 282.24 421.12 285.08 417.39 287.7 413.66 290.05 409.93 292.13 406.2 293.91 402.47 295.37 398.74 296.5 395.02 297.28 391.29 M226.82 508.48 227.6 504.76 228.73 501.03 230.19 497.3 231.97 493.57 234.05 489.84 236.4 486.11 239.02 482.38 241.86 478.65 244.91 474.93 248.13 471.2 251.49 467.47 254.95 463.74 258.48 460.01 262.05 456.28 265.62 452.55 269.15 448.82 272.61 445.09 275.97 441.37 279.19 437.64 282.24 433.91 285.08 430.18 287.7 426.45 290.05 422.72 292.13 418.99 293.91 415.26 295.37 411.53 296.5 407.81 297.28 404.08 M226.82 521.27 227.6 517.55 228.73 513.82 230.19 510.09 231.97 506.36 234.05 502.63 236.4 498.9 239.02 495.17 241.86 491.44 244.91 487.72 248.13 483.99 251.49 480.26 254.95 476.53 258.48 472.8 262.05 469.07 265.62 465.34 269.15 461.61 272.61 457.88 275.97 454.16 279.19 450.43 282.24 446.7 285.08 442.97 287.7 439.24 290.05 435.51 292.13 431.78 293.91 428.05 295.37 424.32 296.5 420.6 297.28 416.87 M226.82 534.06 227.6 530.34 228.73 526.61 230.19 522.88 231.97 519.15 234.05 515.42 236.4 511.69 239.02 507.96 241.86 504.23 244.91 500.51 248.13 496.78 251.49 493.05 254.95 489.32 258.48 485.59 262.05 481.86 265.62 478.13 269.15 474.4 272.61 470.67 275.97 466.95 279.19 463.22 282.24 459.49 285.08 455.76 287.7 452.03 290.05 448.3 292.13 444.57 293.91 440.84 295.37 437.11 296.5 433.39 297.28 429.66 M226.82 546.85 227.6 543.13 228.73 539.4 230.19 535.67 231.97 531.94 234.05 528.21 236.4 524.48 239.02 520.75 241.86 517.02 244.91 513.3 248.13 509.57 251.49 505.84 254.95 502.11 258.48 498.38 262.05 494.65 265.62 490.92 269.15 487.19 272.61 483.46 275.97 479.74 279.19 476.01 282.24 472.28 285.08 468.55 287.7 464.82 290.05 461.09 292.13 457.36 293.91 453.63 295.37 449.9 296.5 446.18 297.28 442.45 M226.82 559.64 227.6 555.92 228.73 552.19 230.19 548.46 231.97 544.73 234.05 541 236.4 537.27 239.02 533.54 241.86 529.81 244.91 526.09 248.13 522.36 251.49 518.63 254.95 514.9 258.48 511.17 262.05 507.44 265.62 503.71 269.15 499.98 272.61 496.25 275.97 492.53 279.19 488.8 282.24 485.07 285.08 481.34 287.7 477.61 290.05 473.88 292.13 470.15 293.91 466.42 295.37 462.69 296.5 458.97 297.28 455.24 M226.82 572.43 227.6 568.71 228.73 564.98 230.19 561.25 231.97 557.52 234.05 553.79 236.4 550.06 239.02 546.33 241.86 542.6 244.91 538.88 248.13 535.15 251.49 531.42 254.95 527.69 258.48 523.96 262.05 520.23 265.62 516.5 269.15 512.77 272.61 509.04 275.97 505.32 279.19 501.59 282.24 497.86 285.08 494.13 287.7 490.4 290.05 486.67 292.13 482.94 293.91 479.21 295.37 475.48 296.5 471.76 297.28 468.03 M226.82 585.22 227.6 581.5 228.73 577.77 230.19 574.04 231.97 570.31 234.05 566.58 236.4 562.85 239.02 559.12 241.86 555.39 244.91 551.67 248.13 547.94 251.49 544.21 254.95 540.48 258.48 536.75 262.05 533.02 265.62 529.29 269.15 525.56 272.61 521.83 275.97 518.11 279.19 514.38 282.24 510.65 285.08 506.92 287.7 503.19 290.05 499.46 292.13 495.73 293.91 492 295.37 488.27 296.5 484.55 297.28 480.82 M226.82 598.01 227.6 594.29 228.73 590.56 230.19 586.83 231.97 583.1 234.05 579.37 236.4 575.64 239.02 571.91 241.86 568.18 244.91 564.46 248.13 560.73 251.49 557 254.95 553.27 258.48 549.54 262.05 545.81 265.62 542.08 269.15 538.35 272.61 534.62 275.97 530.9 279.19 527.17 282.24 523.44 285.08 519.71 287.7 515.98 290.05 512.25 292.13 508.52 293.91 504.79 295.37 501.06 296.5 497.34 297.28 493.61 M226.82 610.8 227.6 607.08 228.73 603.35 230.19 599.62 231.97 595.89 234.05 592.16 236.4 588.43 239.02 584.7 241.86 580.97 244.91 577.25 248.13 573.52 251.49 569.79 254.95 566.06 258.48 562.33 262.05 558.6 265.62 554.87 269.15 551.14 272.61 547.41 275.97 543.69 279.19 539.96 282.24 536.23 285.08 532.5 287.7 528.77 290.05 525.04 292.13 521.31 293.91 517.58 295.37 513.85 296.5 510.13 297.28 506.4 M226.82 623.59 227.6 619.87 228.73 616.14 230.19 612.41 231.97 608.68 234.05 604.95 236.4 601.22 239.02 597.49 241.86 593.76 244.91 590.04 248.13 586.31 251.49 582.58 254.95 578.85 258.48 575.12 262.05 571.39 265.62 567.66 269.15 563.93 272.61 560.2 275.97 556.48 279.19 552.75 282.24 549.02 285.08 545.29 287.7 541.56 290.05 537.83 292.13 534.1 293.91 530.37 295.37 526.64 296.5 522.92 297.28 519.19 M226.82 636.38 227.6 632.66 228.73 628.93 230.19 625.2 231.97 621.47 234.05 617.74 236.4 614.01 239.02 610.28 241.86 606.55 244.91 602.83 248.13 599.1 251.49 595.37 254.95 591.64 258.48 587.91 262.05 584.18 265.62 580.45 269.15 576.72 272.61 572.99 275.97 569.27 279.19 565.54 282.24 561.81 285.08 558.08 287.7 554.35 290.05 550.62 292.13 546.89 293.91 543.16 295.37 539.43 296.5 535.71 297.28 531.98 M226.82 649.17 227.6 645.45 228.73 641.72 230.19 637.99 231.97 634.26 234.05 630.53 236.4 626.8 239.02 623.07 241.86 619.34 244.91 615.62 248.13 611.89 251.49 608.16 254.95 604.43 258.48 600.7 262.05 596.97 265.62 593.24 269.15 589.51 272.61 585.78 275.97 582.06 279.19 578.33 282.24 574.6 285.08 570.87 287.7 567.14 290.05 563.41 292.13 559.68 293.91 555.95 295.37 552.22 296.5 548.5 297.28 544.77 M226.82 661.96 227.6 658.24 228.73 654.51 230.19 650.78 231.97 647.05 234.05 643.32 236.4 639.59 239.02 635.86 241.86 632.13 244.91 628.41 248.13 624.68 251.49 620.95 254.95 617.22 258.48 613.49 262.05 609.76 265.62 606.03 269.15 602.3 272.61 598.57 275.97 594.85 279.19 591.12 282.24 587.39 285.08 583.66 287.7 579.93 290.05 576.2 292.13 572.47 293.91 568.74 295.37 565.01 296.5 561.29 297.28 557.56 M226.82 674.75 227.6 671.03 228.73 667.3 230.19 663.57 231.97 659.84 234.05 656.11 236.4 652.38 239.02 648.65 241.86 644.92 244.91 641.2 248.13 637.47 251.49 633.74 254.95 630.01 258.48 626.28 262.05 622.55 265.62 618.82 269.15 615.09 272.61 611.36 275.97 607.64 279.19 603.91 282.24 600.18 285.08 596.45 287.7 592.72 290.05 588.99 292.13 585.26 293.91 581.53 295.37 577.8 296.5 574.08 297.28 570.35 M226.82 687.54 227.6 683.82 228.73 680.09 230.19 676.36 231.97 672.63 234.05 668.9 236.4 665.17 239.02 661.44 241.86 657.71 244.91 653.99 248.13 650.26 251.49 646.53 254.95 642.8 258.48 639.07 262.05 635.34 265.62 631.61 269.15 627.88 272.61 624.15 275.97 620.43 279.19 616.7 282.24 612.97 285.08 609.24 287.7 605.51 290.05 601.78 292.13 598.05 293.91 594.32 295.37 590.59 296.5 586.87 297.28 583.14 M226.82 700.33 227.6 696.61 228.73 692.88 230.19 689.15 231.97 685.42 234.05 681.69 236.4 677.96 239.02 674.23 241.86 670.5 244.91 666.78 248.13 663.05 251.49 659.32 254.95 655.59 258.48 651.86 262.05 648.13 265.62 644.4 269.15 640.67 272.61 636.94 275.97 633.22 279.19 629.49 282.24 625.76 285.08 622.03 287.7 618.3 290.05 614.57 292.13 610.84 293.91 607.11 295.37 603.38 296.5 599.66 297.28 595.93 M226.82 713.12 227.6 709.4 228.73 705.67 230.19 701.94 231.97 698.21 234.05 694.48 236.4 690.75 239.02 687.02 241.86 683.29 244.91 679.57 248.13 675.84 251.49 672.11 254.95 668.38 258.48 664.65 262.05 660.92 265.62 657.19 269.15 653.46 272.61 649.73 275.97 646.01 279.19 642.28 282.24 638.55 285.08 634.82 287.7 631.09 290.05 627.36 292.13 623.63 293.91 619.9 295.37 616.17 296.5 612.45 297.28 608.72 M226.82 725.91 227.6 722.19 228.73 718.46 230.19 714.73 231.97 711 234.05 707.27 236.4 703.54 239.02 699.81 241.86 696.08 244.91 692.36 248.13 688.63 251.49 684.9 254.95 681.17 258.48 677.44 262.05 673.71 265.62 669.98 269.15 666.25 272.61 662.52 275.97 658.8 279.19 655.07 282.24 651.34 285.08 647.61 287.7 643.88 290.05 640.15 292.13 636.42 293.91 632.69 295.37 628.96 296.5 625.24 297.28 621.51 M226.82 738.7 227.6 734.98 228.73 731.25 230.19 727.52 231.97 723.79 234.05 720.06 236.4 716.33 239.02 712.6 241.86 708.87 244.91 705.15 248.13 701.42 251.49 697.69 254.95 693.96 258.48 690.23 262.05 686.5 265.62 682.77 269.15 679.04 272.61 675.31 275.97 671.59 279.19 667.86 282.24 664.13 285.08 660.4 287.7 656.67 290.05 652.94 292.13 649.21 293.91 645.48 295.37 641.75 296.5 638.03 297.28 634.3 M226.82 751.49 227.6 747.77 228.73 744.04 230.19 740.31 231.97 736.58 234.05 732.85 236.4 729.12 239.02 725.39 241.86 721.66 244.91 717.94 248.13 714.21 251.49 710.48 254.95 706.75 258.48 703.02 262.05 699.29 265.62 695.56 269.15 691.83 272.61 688.1 275.97 684.38 279.19 680.65 282.24 676.92 285.08 673.19 287.7 669.46 290.05 665.73 292.13 662 293.91 658.27 295.37 654.54 296.5 650.82 297.28 647.09 M226.82 764.28 227.6 760.56 228.73 756.83 230.19 753.1 231.97 749.37 234.05 745.64 236.4 741.91 239.02 738.18 241.86 734.45 244.91 730.73 248.13 727 251.49 723.27 254.95 719.54 258.48 715.81 262.05 712.08 265.62 708.35 269.15 704.62 272.61 700.89 275.97 697.17 279.19 693.44 282.24 689.71 285.08 685.98 287.7 682.25 290.05 678.52 292.13 674.79 293.91 671.06 295.37 667.33 296.5 663.61 297.28 659.88 M226.82 777.07 227.6 773.35 228.73 769.62 230.19 765.89 231.97 762.16 234.05 758.43 236.4 754.7 239.02 750.97 241.86 747.24 244.91 743.52 248.13 739.79 251.49 736.06 254.95 732.33 258.48 728.6 262.05 724.87 265.62 721.14 269.15 717.41 272.61 713.68 275.97 709.96 279.19 706.23 282.24 702.5 285.08 698.77 287.7 695.04 290.05 691.31 292.13 687.58 293.91 683.85 295.37 680.12 296.5 676.4 297.28 672.67 M226.82 789.86 227.6 786.14 228.73 782.41 230.19 778.68 231.97 774.95 234.05 771.22 236.4 767.49 239.02 763.76 241.86 760.03 244.91 756.31 248.13 752.58 251.49 748.85 254.95 745.12 258.48 741.39 262.05 737.66 265.62 733.93 269.15 730.2 272.61 726.47 275.97 722.75 279.19 719.02 282.24 715.29 285.08 711.56 287.7 707.83 290.05 704.1 292.13 700.37 293.91 696.64 295.37 692.91 296.5 689.19 297.28 685.46 M226.82 802.65 227.6 798.93 228.73 795.2 230.19 791.47 231.97 787.74 234.05 784.01 236.4 780.28 239.02 776.55 241.86 772.82 244.91 769.1 248.13 765.37 251.49 761.64 254.95 757.91 258.48 754.18 262.05 750.45 265.62 746.72 269.15 742.99 272.61 739.26 275.97 735.54 279.19 731.81 282.24 728.08 285.08 724.35 287.7 720.62 290.05 716.89 292.13 713.16 293.91 709.43 295.37 705.7 296.5 701.98 297.28 698.25 M226.82 815.44 227.6 811.72 228.73 807.99 230.19 804.26 231.97 800.53 234.05 796.8 236.4 793.07 239.02 789.34 241.86 785.61 244.91 781.89 248.13 778.16 251.49 774.43 254.95 770.7 258.48 766.97 262.05 763.24 265.62 759.51 269.15 755.78 272.61 752.05 275.97 748.33 279.19 744.6 282.24 740.87 285.08 737.14 287.7 733.41 290.05 729.68 292.13 725.95 293.91 722.22 295.37 718.49 296.5 714.77 297.28 711.04 M226.82 828.23 227.6 824.51 228.73 820.78 230.19 817.05 231.97 813.32 234.05 809.59 236.4 805.86 239.02 802.13 241.86 798.4 244.91 794.68 248.13 790.95 251.49 787.22 254.95 783.49 258.48 779.76 262.05 776.03 265.62 772.3 269.15 768.57 272.61 764.84 275.97 761.12 279.19 757.39 282.24 753.66 285.08 749.93 287.7 746.2 290.05 742.47 292.13 738.74 293.91 735.01 295.37 731.28 296.5 727.56 297.28 723.83 M226.82 841.02 227.6 837.3 228.73 833.57 230.19 829.84 231.97 826.11 234.05 822.38 236.4 818.65 239.02 814.92 241.86 811.19 244.91 807.47 248.13 803.74 251.49 800.01 254.95 796.28 258.48 792.55 262.05 788.82 265.62 785.09 269.15 781.36 272.61 777.63 275.97 773.91 279.19 770.18 282.24 766.45 285.08 762.72 287.7 758.99 290.05 755.26 292.13 751.53 293.91 747.8 295.37 744.07 296.5 740.35 297.28 736.62 M226.82 853.81 227.6 850.09 228.73 846.36 230.19 842.63 231.97 838.9 234.05 835.17 236.4 831.44 239.02 827.71 241.86 823.98 244.91 820.26 248.13 816.53 251.49 812.8 254.95 809.07 258.48 805.34 262.05 801.61 265.62 797.88 269.15 794.15 272.61 790.42 275.97 786.7 279.19 782.97 282.24 779.24 285.08 775.51 287.7 771.78 290.05 768.05 292.13 764.32 293.91 760.59 295.37 756.86 296.5 753.14 297.28 749.41 M226.82 866.6 227.6 862.88 228.73 859.15 230.19 855.42 231.97 851.69 234.05 847.96 236.4 844.23 239.02 840.5 241.86 836.77 244.91 833.05 248.13 829.32 251.49 825.59 254.95 821.86 258.48 818.13 262.05 814.4 265.62 810.67 269.15 806.94 272.61 803.21 275.97 799.49 279.19 795.76 282.24 792.03 285.08 788.3 287.7 784.57 290.05 780.84 292.13 777.11 293.91 773.38 295.37 769.65 296.5 765.93 297.28 762.2 M226.82 879.39 227.6 875.67 228.73 871.94 230.19 868.21 231.97 864.48 234.05 860.75 236.4 857.02 239.02 853.29 241.86 849.56 244.91 845.84 248.13 842.11 251.49 838.38 254.95 834.65 258.48 830.92 262.05 827.19 265.62 823.46 269.15 819.73 272.61 816 275.97 812.28 279.19 808.55 282.24 804.82 285.08 801.09 287.7 797.36 290.05 793.63 292.13 789.9 293.91 786.17 295.37 782.44 296.5 778.72 297.28 774.99 M226.82 892.18 227.6 888.46 228.73 884.73 230.19 881 231.97 877.27 234.05 873.54 236.4 869.81 239.02 866.08 241.86 862.35 244.91 858.63 248.13 854.9 251.49 851.17 254.95 847.44 258.48 843.71 262.05 839.98 265.62 836.25 269.15 832.52 272.61 828.79 275.97 825.07 279.19 821.34 282.24 817.61 285.08 813.88 287.7 810.15 290.05 806.42 292.13 802.69 293.91 798.96 295.37 795.23 296.5 791.51 297.28 787.78 M226.82 904.97 227.6 901.25 228.73 897.52 230.19 893.79 231.97 890.06 234.05 886.33 236.4 882.6 239.02 878.87 241.86 875.14 244.91 871.42 248.13 867.69 251.49 863.96 254.95 860.23 258.48 856.5 262.05 852.77 265.62 849.04 269.15 845.31 272.61 841.58 275.97 837.86 279.19 834.13 282.24 830.4 285.08 826.67 287.7 822.94 290.05 819.21 292.13 815.48 293.91 811.75 295.37 808.02 296.5 804.3 297.28 800.57 M226.82 917.76 227.6 914.04 228.73 910.31 230.19 906.58 231.97 902.85 234.05 899.12 236.4 895.39 239.02 891.66 241.86 887.93 244.91 884.21 248.13 880.48 251.49 876.75 254.95 873.02 258.48 869.29 262.05 865.56 265.62 861.83 269.15 858.1 272.61 854.37 275.97 850.65 279.19 846.92 282.24 843.19 285.08 839.46 287.7 835.73 290.05 832 292.13 828.27 293.91 824.54 295.37 820.81 296.5 817.09 297.28 813.36"/></g><g clip-path="url(#kc1)"><path d="M446.32 254.89 447.1 258.61 448.23 262.34 449.69 266.07 451.47 269.8 453.55 273.53 455.9 277.26 458.52 280.99 461.36 284.72 464.41 288.44 467.63 292.17 470.99 295.9 474.45 299.63 477.98 303.36 481.55 307.09 485.12 310.82 488.65 314.55 492.11 318.28 495.47 322 498.69 325.73 501.74 329.46 504.58 333.19 507.2 336.92 509.55 340.65 511.63 344.38 513.41 348.11 514.87 351.84 516 355.56 516.78 359.29 M446.32 267.68 447.1 271.4 448.23 275.13 449.69 278.86 451.47 282.59 453.55 286.32 455.9 290.05 458.52 293.78 461.36 297.51 464.41 301.23 467.63 304.96 470.99 308.69 474.45 312.42 477.98 316.15 481.55 319.88 485.12 323.61 488.65 327.34 492.11 331.07 495.47 334.79 498.69 338.52 501.74 342.25 504.58 345.98 507.2 349.71 509.55 353.44 511.63 357.17 513.41 360.9 514.87 364.63 516 368.35 516.78 372.08 M446.32 280.47 447.1 284.19 448.23 287.92 449.69 291.65 451.47 295.38 453.55 299.11 455.9 302.84 458.52 306.57 461.36 310.3 464.41 314.02 467.63 317.75 470.99 321.48 474.45 325.21 477.98 328.94 481.55 332.67 485.12 336.4 488.65 340.13 492.11 343.86 495.47 347.58 498.69 351.31 501.74 355.04 504.58 358.77 507.2 362.5 509.55 366.23 511.63 369.96 513.41 373.69 514.87 377.42 516 381.14 516.78 384.87 M446.32 293.26 447.1 296.98 448.23 300.71 449.69 304.44 451.47 308.17 453.55 311.9 455.9 315.63 458.52 319.36 461.36 323.09 464.41 326.81 467.63 330.54 470.99 334.27 474.45 338 477.98 341.73 481.55 345.46 485.12 349.19 488.65 352.92 492.11 356.65 495.47 360.37 498.69 364.1 501.74 367.83 504.58 371.56 507.2 375.29 509.55 379.02 511.63 382.75 513.41 386.48 514.87 390.21 516 393.93 516.78 397.66 M446.32 306.05 447.1 309.77 448.23 313.5 449.69 317.23 451.47 320.96 453.55 324.69 455.9 328.42 458.52 332.15 461.36 335.88 464.41 339.6 467.63 343.33 470.99 347.06 474.45 350.79 477.98 354.52 481.55 358.25 485.12 361.98 488.65 365.71 492.11 369.44 495.47 373.16 498.69 376.89 501.74 380.62 504.58 384.35 507.2 388.08 509.55 391.81 511.63 395.54 513.41 399.27 514.87 403 516 406.72 516.78 410.45 M446.32 318.84 447.1 322.56 448.23 326.29 449.69 330.02 451.47 333.75 453.55 337.48 455.9 341.21 458.52 344.94 461.36 348.67 464.41 352.39 467.63 356.12 470.99 359.85 474.45 363.58 477.98 367.31 481.55 371.04 485.12 374.77 488.65 378.5 492.11 382.23 495.47 385.95 498.69 389.68 501.74 393.41 504.58 397.14 507.2 400.87 509.55 404.6 511.63 408.33 513.41 412.06 514.87 415.79 516 419.51 516.78 423.24 M446.32 331.63 447.1 335.35 448.23 339.08 449.69 342.81 451.47 346.54 453.55 350.27 455.9 354 458.52 357.73 461.36 361.46 464.41 365.18 467.63 368.91 470.99 372.64 474.45 376.37 477.98 380.1 481.55 383.83 485.12 387.56 488.65 391.29 492.11 395.02 495.47 398.74 498.69 402.47 501.74 406.2 504.58 409.93 507.2 413.66 509.55 417.39 511.63 421.12 513.41 424.85 514.87 428.58 516 432.3 516.78 436.03 M446.32 344.42 447.1 348.14 448.23 351.87 449.69 355.6 451.47 359.33 453.55 363.06 455.9 366.79 458.52 370.52 461.36 374.25 464.41 377.97 467.63 381.7 470.99 385.43 474.45 389.16 477.98 392.89 481.55 396.62 485.12 400.35 488.65 404.08 492.11 407.81 495.47 411.53 498.69 415.26 501.74 418.99 504.58 422.72 507.2 426.45 509.55 430.18 511.63 433.91 513.41 437.64 514.87 441.37 516 445.09 516.78 448.82 M446.32 357.21 447.1 360.93 448.23 364.66 449.69 368.39 451.47 372.12 453.55 375.85 455.9 379.58 458.52 383.31 461.36 387.04 464.41 390.76 467.63 394.49 470.99 398.22 474.45 401.95 477.98 405.68 481.55 409.41 485.12 413.14 488.65 416.87 492.11 420.6 495.47 424.32 498.69 428.05 501.74 431.78 504.58 435.51 507.2 439.24 509.55 442.97 511.63 446.7 513.41 450.43 514.87 454.16 516 457.88 516.78 461.61 M446.32 370 447.1 373.72 448.23 377.45 449.69 381.18 451.47 384.91 453.55 388.64 455.9 392.37 458.52 396.1 461.36 399.83 464.41 403.55 467.63 407.28 470.99 411.01 474.45 414.74 477.98 418.47 481.55 422.2 485.12 425.93 488.65 429.66 492.11 433.39 495.47 437.11 498.69 440.84 501.74 444.57 504.58 448.3 507.2 452.03 509.55 455.76 511.63 459.49 513.41 463.22 514.87 466.95 516 470.67 516.78 474.4 M446.32 382.79 447.1 386.51 448.23 390.24 449.69 393.97 451.47 397.7 453.55 401.43 455.9 405.16 458.52 408.89 461.36 412.62 464.41 416.34 467.63 420.07 470.99 423.8 474.45 427.53 477.98 431.26 481.55 434.99 485.12 438.72 488.65 442.45 492.11 446.18 495.47 449.9 498.69 453.63 501.74 457.36 504.58 461.09 507.2 464.82 509.55 468.55 511.63 472.28 513.41 476.01 514.87 479.74 516 483.46 516.78 487.19 M446.32 395.58 447.1 399.3 448.23 403.03 449.69 406.76 451.47 410.49 453.55 414.22 455.9 417.95 458.52 421.68 461.36 425.41 464.41 429.13 467.63 432.86 470.99 436.59 474.45 440.32 477.98 444.05 481.55 447.78 485.12 451.51 488.65 455.24 492.11 458.97 495.47 462.69 498.69 466.42 501.74 470.15 504.58 473.88 507.2 477.61 509.55 481.34 511.63 485.07 513.41 488.8 514.87 492.53 516 496.25 516.78 499.98 M446.32 408.37 447.1 412.09 448.23 415.82 449.69 419.55 451.47 423.28 453.55 427.01 455.9 430.74 458.52 434.47 461.36 438.2 464.41 441.92 467.63 445.65 470.99 449.38 474.45 453.11 477.98 456.84 481.55 460.57 485.12 464.3 488.65 468.03 492.11 471.76 495.47 475.48 498.69 479.21 501.74 482.94 504.58 486.67 507.2 490.4 509.55 494.13 511.63 497.86 513.41 501.59 514.87 505.32 516 509.04 516.78 512.77 M446.32 421.16 447.1 424.88 448.23 428.61 449.69 432.34 451.47 436.07 453.55 439.8 455.9 443.53 458.52 447.26 461.36 450.99 464.41 454.71 467.63 458.44 470.99 462.17 474.45 465.9 477.98 469.63 481.55 473.36 485.12 477.09 488.65 480.82 492.11 484.55 495.47 488.27 498.69 492 501.74 495.73 504.58 499.46 507.2 503.19 509.55 506.92 511.63 510.65 513.41 514.38 514.87 518.11 516 521.83 516.78 525.56 M446.32 433.95 447.1 437.67 448.23 441.4 449.69 445.13 451.47 448.86 453.55 452.59 455.9 456.32 458.52 460.05 461.36 463.78 464.41 467.5 467.63 471.23 470.99 474.96 474.45 478.69 477.98 482.42 481.55 486.15 485.12 489.88 488.65 493.61 492.11 497.34 495.47 501.06 498.69 504.79 501.74 508.52 504.58 512.25 507.2 515.98 509.55 519.71 511.63 523.44 513.41 527.17 514.87 530.9 516 534.62 516.78 538.35 M446.32 446.74 447.1 450.46 448.23 454.19 449.69 457.92 451.47 461.65 453.55 465.38 455.9 469.11 458.52 472.84 461.36 476.57 464.41 480.29 467.63 484.02 470.99 487.75 474.45 491.48 477.98 495.21 481.55 498.94 485.12 502.67 488.65 506.4 492.11 510.13 495.47 513.85 498.69 517.58 501.74 521.31 504.58 525.04 507.2 528.77 509.55 532.5 511.63 536.23 513.41 539.96 514.87 543.69 516 547.41 516.78 551.14 M446.32 459.53 447.1 463.25 448.23 466.98 449.69 470.71 451.47 474.44 453.55 478.17 455.9 481.9 458.52 485.63 461.36 489.36 464.41 493.08 467.63 496.81 470.99 500.54 474.45 504.27 477.98 508 481.55 511.73 485.12 515.46 488.65 519.19 492.11 522.92 495.47 526.64 498.69 530.37 501.74 534.1 504.58 537.83 507.2 541.56 509.55 545.29 511.63 549.02 513.41 552.75 514.87 556.48 516 560.2 516.78 563.93 M446.32 472.32 447.1 476.04 448.23 479.77 449.69 483.5 451.47 487.23 453.55 490.96 455.9 494.69 458.52 498.42 461.36 502.15 464.41 505.87 467.63 509.6 470.99 513.33 474.45 517.06 477.98 520.79 481.55 524.52 485.12 528.25 488.65 531.98 492.11 535.71 495.47 539.43 498.69 543.16 501.74 546.89 504.58 550.62 507.2 554.35 509.55 558.08 511.63 561.81 513.41 565.54 514.87 569.27 516 572.99 516.78 576.72 M446.32 485.11 447.1 488.83 448.23 492.56 449.69 496.29 451.47 500.02 453.55 503.75 455.9 507.48 458.52 511.21 461.36 514.94 464.41 518.66 467.63 522.39 470.99 526.12 474.45 529.85 477.98 533.58 481.55 537.31 485.12 541.04 488.65 544.77 492.11 548.5 495.47 552.22 498.69 555.95 501.74 559.68 504.58 563.41 507.2 567.14 509.55 570.87 511.63 574.6 513.41 578.33 514.87 582.06 516 585.78 516.78 589.51 M446.32 497.9 447.1 501.62 448.23 505.35 449.69 509.08 451.47 512.81 453.55 516.54 455.9 520.27 458.52 524 461.36 527.73 464.41 531.45 467.63 535.18 470.99 538.91 474.45 542.64 477.98 546.37 481.55 550.1 485.12 553.83 488.65 557.56 492.11 561.29 495.47 565.01 498.69 568.74 501.74 572.47 504.58 576.2 507.2 579.93 509.55 583.66 511.63 587.39 513.41 591.12 514.87 594.85 516 598.57 516.78 602.3 M446.32 510.69 447.1 514.41 448.23 518.14 449.69 521.87 451.47 525.6 453.55 529.33 455.9 533.06 458.52 536.79 461.36 540.52 464.41 544.24 467.63 547.97 470.99 551.7 474.45 555.43 477.98 559.16 481.55 562.89 485.12 566.62 488.65 570.35 492.11 574.08 495.47 577.8 498.69 581.53 501.74 585.26 504.58 588.99 507.2 592.72 509.55 596.45 511.63 600.18 513.41 603.91 514.87 607.64 516 611.36 516.78 615.09 M446.32 523.48 447.1 527.2 448.23 530.93 449.69 534.66 451.47 538.39 453.55 542.12 455.9 545.85 458.52 549.58 461.36 553.31 464.41 557.03 467.63 560.76 470.99 564.49 474.45 568.22 477.98 571.95 481.55 575.68 485.12 579.41 488.65 583.14 492.11 586.87 495.47 590.59 498.69 594.32 501.74 598.05 504.58 601.78 507.2 605.51 509.55 609.24 511.63 612.97 513.41 616.7 514.87 620.43 516 624.15 516.78 627.88 M446.32 536.27 447.1 539.99 448.23 543.72 449.69 547.45 451.47 551.18 453.55 554.91 455.9 558.64 458.52 562.37 461.36 566.1 464.41 569.82 467.63 573.55 470.99 577.28 474.45 581.01 477.98 584.74 481.55 588.47 485.12 592.2 488.65 595.93 492.11 599.66 495.47 603.38 498.69 607.11 501.74 610.84 504.58 614.57 507.2 618.3 509.55 622.03 511.63 625.76 513.41 629.49 514.87 633.22 516 636.94 516.78 640.67 M446.32 549.06 447.1 552.78 448.23 556.51 449.69 560.24 451.47 563.97 453.55 567.7 455.9 571.43 458.52 575.16 461.36 578.89 464.41 582.61 467.63 586.34 470.99 590.07 474.45 593.8 477.98 597.53 481.55 601.26 485.12 604.99 488.65 608.72 492.11 612.45 495.47 616.17 498.69 619.9 501.74 623.63 504.58 627.36 507.2 631.09 509.55 634.82 511.63 638.55 513.41 642.28 514.87 646.01 516 649.73 516.78 653.46 M446.32 561.85 447.1 565.57 448.23 569.3 449.69 573.03 451.47 576.76 453.55 580.49 455.9 584.22 458.52 587.95 461.36 591.68 464.41 595.4 467.63 599.13 470.99 602.86 474.45 606.59 477.98 610.32 481.55 614.05 485.12 617.78 488.65 621.51 492.11 625.24 495.47 628.96 498.69 632.69 501.74 636.42 504.58 640.15 507.2 643.88 509.55 647.61 511.63 651.34 513.41 655.07 514.87 658.8 516 662.52 516.78 666.25 M446.32 574.64 447.1 578.36 448.23 582.09 449.69 585.82 451.47 589.55 453.55 593.28 455.9 597.01 458.52 600.74 461.36 604.47 464.41 608.19 467.63 611.92 470.99 615.65 474.45 619.38 477.98 623.11 481.55 626.84 485.12 630.57 488.65 634.3 492.11 638.03 495.47 641.75 498.69 645.48 501.74 649.21 504.58 652.94 507.2 656.67 509.55 660.4 511.63 664.13 513.41 667.86 514.87 671.59 516 675.31 516.78 679.04 M446.32 587.43 447.1 591.15 448.23 594.88 449.69 598.61 451.47 602.34 453.55 606.07 455.9 609.8 458.52 613.53 461.36 617.26 464.41 620.98 467.63 624.71 470.99 628.44 474.45 632.17 477.98 635.9 481.55 639.63 485.12 643.36 488.65 647.09 492.11 650.82 495.47 654.54 498.69 658.27 501.74 662 504.58 665.73 507.2 669.46 509.55 673.19 511.63 676.92 513.41 680.65 514.87 684.38 516 688.1 516.78 691.83 M446.32 600.22 447.1 603.94 448.23 607.67 449.69 611.4 451.47 615.13 453.55 618.86 455.9 622.59 458.52 626.32 461.36 630.05 464.41 633.77 467.63 637.5 470.99 641.23 474.45 644.96 477.98 648.69 481.55 652.42 485.12 656.15 488.65 659.88 492.11 663.61 495.47 667.33 498.69 671.06 501.74 674.79 504.58 678.52 507.2 682.25 509.55 685.98 511.63 689.71 513.41 693.44 514.87 697.17 516 700.89 516.78 704.62 M446.32 613.01 447.1 616.73 448.23 620.46 449.69 624.19 451.47 627.92 453.55 631.65 455.9 635.38 458.52 639.11 461.36 642.84 464.41 646.56 467.63 650.29 470.99 654.02 474.45 657.75 477.98 661.48 481.55 665.21 485.12 668.94 488.65 672.67 492.11 676.4 495.47 680.12 498.69 683.85 501.74 687.58 504.58 691.31 507.2 695.04 509.55 698.77 511.63 702.5 513.41 706.23 514.87 709.96 516 713.68 516.78 717.41 M446.32 625.8 447.1 629.52 448.23 633.25 449.69 636.98 451.47 640.71 453.55 644.44 455.9 648.17 458.52 651.9 461.36 655.63 464.41 659.35 467.63 663.08 470.99 666.81 474.45 670.54 477.98 674.27 481.55 678 485.12 681.73 488.65 685.46 492.11 689.19 495.47 692.91 498.69 696.64 501.74 700.37 504.58 704.1 507.2 707.83 509.55 711.56 511.63 715.29 513.41 719.02 514.87 722.75 516 726.47 516.78 730.2 M446.32 638.59 447.1 642.31 448.23 646.04 449.69 649.77 451.47 653.5 453.55 657.23 455.9 660.96 458.52 664.69 461.36 668.42 464.41 672.14 467.63 675.87 470.99 679.6 474.45 683.33 477.98 687.06 481.55 690.79 485.12 694.52 488.65 698.25 492.11 701.98 495.47 705.7 498.69 709.43 501.74 713.16 504.58 716.89 507.2 720.62 509.55 724.35 511.63 728.08 513.41 731.81 514.87 735.54 516 739.26 516.78 742.99 M446.32 651.38 447.1 655.1 448.23 658.83 449.69 662.56 451.47 666.29 453.55 670.02 455.9 673.75 458.52 677.48 461.36 681.21 464.41 684.93 467.63 688.66 470.99 692.39 474.45 696.12 477.98 699.85 481.55 703.58 485.12 707.31 488.65 711.04 492.11 714.77 495.47 718.49 498.69 722.22 501.74 725.95 504.58 729.68 507.2 733.41 509.55 737.14 511.63 740.87 513.41 744.6 514.87 748.33 516 752.05 516.78 755.78 M446.32 664.17 447.1 667.89 448.23 671.62 449.69 675.35 451.47 679.08 453.55 682.81 455.9 686.54 458.52 690.27 461.36 694 464.41 697.72 467.63 701.45 470.99 705.18 474.45 708.91 477.98 712.64 481.55 716.37 485.12 720.1 488.65 723.83 492.11 727.56 495.47 731.28 498.69 735.01 501.74 738.74 504.58 742.47 507.2 746.2 509.55 749.93 511.63 753.66 513.41 757.39 514.87 761.12 516 764.84 516.78 768.57 M446.32 676.96 447.1 680.68 448.23 684.41 449.69 688.14 451.47 691.87 453.55 695.6 455.9 699.33 458.52 703.06 461.36 706.79 464.41 710.51 467.63 714.24 470.99 717.97 474.45 721.7 477.98 725.43 481.55 729.16 485.12 732.89 488.65 736.62 492.11 740.35 495.47 744.07 498.69 747.8 501.74 751.53 504.58 755.26 507.2 758.99 509.55 762.72 511.63 766.45 513.41 770.18 514.87 773.91 516 777.63 516.78 781.36 M446.32 689.75 447.1 693.47 448.23 697.2 449.69 700.93 451.47 704.66 453.55 708.39 455.9 712.12 458.52 715.85 461.36 719.58 464.41 723.3 467.63 727.03 470.99 730.76 474.45 734.49 477.98 738.22 481.55 741.95 485.12 745.68 488.65 749.41 492.11 753.14 495.47 756.86 498.69 760.59 501.74 764.32 504.58 768.05 507.2 771.78 509.55 775.51 511.63 779.24 513.41 782.97 514.87 786.7 516 790.42 516.78 794.15 M446.32 702.54 447.1 706.26 448.23 709.99 449.69 713.72 451.47 717.45 453.55 721.18 455.9 724.91 458.52 728.64 461.36 732.37 464.41 736.09 467.63 739.82 470.99 743.55 474.45 747.28 477.98 751.01 481.55 754.74 485.12 758.47 488.65 762.2 492.11 765.93 495.47 769.65 498.69 773.38 501.74 777.11 504.58 780.84 507.2 784.57 509.55 788.3 511.63 792.03 513.41 795.76 514.87 799.49 516 803.21 516.78 806.94 M446.32 715.33 447.1 719.05 448.23 722.78 449.69 726.51 451.47 730.24 453.55 733.97 455.9 737.7 458.52 741.43 461.36 745.16 464.41 748.88 467.63 752.61 470.99 756.34 474.45 760.07 477.98 763.8 481.55 767.53 485.12 771.26 488.65 774.99 492.11 778.72 495.47 782.44 498.69 786.17 501.74 789.9 504.58 793.63 507.2 797.36 509.55 801.09 511.63 804.82 513.41 808.55 514.87 812.28 516 816 516.78 819.73 M446.32 728.12 447.1 731.84 448.23 735.57 449.69 739.3 451.47 743.03 453.55 746.76 455.9 750.49 458.52 754.22 461.36 757.95 464.41 761.67 467.63 765.4 470.99 769.13 474.45 772.86 477.98 776.59 481.55 780.32 485.12 784.05 488.65 787.78 492.11 791.51 495.47 795.23 498.69 798.96 501.74 802.69 504.58 806.42 507.2 810.15 509.55 813.88 511.63 817.61 513.41 821.34 514.87 825.07 516 828.79 516.78 832.52 M446.32 740.91 447.1 744.63 448.23 748.36 449.69 752.09 451.47 755.82 453.55 759.55 455.9 763.28 458.52 767.01 461.36 770.74 464.41 774.46 467.63 778.19 470.99 781.92 474.45 785.65 477.98 789.38 481.55 793.11 485.12 796.84 488.65 800.57 492.11 804.3 495.47 808.02 498.69 811.75 501.74 815.48 504.58 819.21 507.2 822.94 509.55 826.67 511.63 830.4 513.41 834.13 514.87 837.86 516 841.58 516.78 845.31 M446.32 753.7 447.1 757.42 448.23 761.15 449.69 764.88 451.47 768.61 453.55 772.34 455.9 776.07 458.52 779.8 461.36 783.53 464.41 787.25 467.63 790.98 470.99 794.71 474.45 798.44 477.98 802.17 481.55 805.9 485.12 809.63 488.65 813.36 492.11 817.09 495.47 820.81 498.69 824.54 501.74 828.27 504.58 832 507.2 835.73 509.55 839.46 511.63 843.19 513.41 846.92 514.87 850.65 516 854.37 516.78 858.1 M446.32 766.49 447.1 770.21 448.23 773.94 449.69 777.67 451.47 781.4 453.55 785.13 455.9 788.86 458.52 792.59 461.36 796.32 464.41 800.04 467.63 803.77 470.99 807.5 474.45 811.23 477.98 814.96 481.55 818.69 485.12 822.42 488.65 826.15 492.11 829.88 495.47 833.6 498.69 837.33 501.74 841.06 504.58 844.79 507.2 848.52 509.55 852.25 511.63 855.98 513.41 859.71 514.87 863.44 516 867.16 516.78 870.89 M446.32 779.28 447.1 783 448.23 786.73 449.69 790.46 451.47 794.19 453.55 797.92 455.9 801.65 458.52 805.38 461.36 809.11 464.41 812.83 467.63 816.56 470.99 820.29 474.45 824.02 477.98 827.75 481.55 831.48 485.12 835.21 488.65 838.94 492.11 842.67 495.47 846.39 498.69 850.12 501.74 853.85 504.58 857.58 507.2 861.31 509.55 865.04 511.63 868.77 513.41 872.5 514.87 876.23 516 879.95 516.78 883.68 M446.32 792.07 447.1 795.79 448.23 799.52 449.69 803.25 451.47 806.98 453.55 810.71 455.9 814.44 458.52 818.17 461.36 821.9 464.41 825.62 467.63 829.35 470.99 833.08 474.45 836.81 477.98 840.54 481.55 844.27 485.12 848 488.65 851.73 492.11 855.46 495.47 859.18 498.69 862.91 501.74 866.64 504.58 870.37 507.2 874.1 509.55 877.83 511.63 881.56 513.41 885.29 514.87 889.02 516 892.74 516.78 896.47 M446.32 804.86 447.1 808.58 448.23 812.31 449.69 816.04 451.47 819.77 453.55 823.5 455.9 827.23 458.52 830.96 461.36 834.69 464.41 838.41 467.63 842.14 470.99 845.87 474.45 849.6 477.98 853.33 481.55 857.06 485.12 860.79 488.65 864.52 492.11 868.25 495.47 871.97 498.69 875.7 501.74 879.43 504.58 883.16 507.2 886.89 509.55 890.62 511.63 894.35 513.41 898.08 514.87 901.81 516 905.53 516.78 909.26 M446.32 817.65 447.1 821.37 448.23 825.1 449.69 828.83 451.47 832.56 453.55 836.29 455.9 840.02 458.52 843.75 461.36 847.48 464.41 851.2 467.63 854.93 470.99 858.66 474.45 862.39 477.98 866.12 481.55 869.85 485.12 873.58 488.65 877.31 492.11 881.04 495.47 884.76 498.69 888.49 501.74 892.22 504.58 895.95 507.2 899.68 509.55 903.41 511.63 907.14 513.41 910.87 514.87 914.6 516 918.32 516.78 922.05 M446.32 355 447.1 351.28 448.23 347.55 449.69 343.82 451.47 340.09 453.55 336.36 455.9 332.63 458.52 328.9 461.36 325.17 464.41 321.45 467.63 317.72 470.99 313.99 474.45 310.26 477.98 306.53 481.55 302.8 485.12 299.07 488.65 295.34 492.11 291.61 495.47 287.89 498.69 284.16 501.74 280.43 504.58 276.7 507.2 272.97 509.55 269.24 511.63 265.51 513.41 261.78 514.87 258.05 516 254.33 516.78 250.6 M446.32 367.79 447.1 364.07 448.23 360.34 449.69 356.61 451.47 352.88 453.55 349.15 455.9 345.42 458.52 341.69 461.36 337.96 464.41 334.24 467.63 330.51 470.99 326.78 474.45 323.05 477.98 319.32 481.55 315.59 485.12 311.86 488.65 308.13 492.11 304.4 495.47 300.68 498.69 296.95 501.74 293.22 504.58 289.49 507.2 285.76 509.55 282.03 511.63 278.3 513.41 274.57 514.87 270.84 516 267.12 516.78 263.39 M446.32 380.58 447.1 376.86 448.23 373.13 449.69 369.4 451.47 365.67 453.55 361.94 455.9 358.21 458.52 354.48 461.36 350.75 464.41 347.03 467.63 343.3 470.99 339.57 474.45 335.84 477.98 332.11 481.55 328.38 485.12 324.65 488.65 320.92 492.11 317.19 495.47 313.47 498.69 309.74 501.74 306.01 504.58 302.28 507.2 298.55 509.55 294.82 511.63 291.09 513.41 287.36 514.87 283.63 516 279.91 516.78 276.18 M446.32 393.37 447.1 389.65 448.23 385.92 449.69 382.19 451.47 378.46 453.55 374.73 455.9 371 458.52 367.27 461.36 363.54 464.41 359.82 467.63 356.09 470.99 352.36 474.45 348.63 477.98 344.9 481.55 341.17 485.12 337.44 488.65 333.71 492.11 329.98 495.47 326.26 498.69 322.53 501.74 318.8 504.58 315.07 507.2 311.34 509.55 307.61 511.63 303.88 513.41 300.15 514.87 296.42 516 292.7 516.78 288.97 M446.32 406.16 447.1 402.44 448.23 398.71 449.69 394.98 451.47 391.25 453.55 387.52 455.9 383.79 458.52 380.06 461.36 376.33 464.41 372.61 467.63 368.88 470.99 365.15 474.45 361.42 477.98 357.69 481.55 353.96 485.12 350.23 488.65 346.5 492.11 342.77 495.47 339.05 498.69 335.32 501.74 331.59 504.58 327.86 507.2 324.13 509.55 320.4 511.63 316.67 513.41 312.94 514.87 309.21 516 305.49 516.78 301.76 M446.32 418.95 447.1 415.23 448.23 411.5 449.69 407.77 451.47 404.04 453.55 400.31 455.9 396.58 458.52 392.85 461.36 389.12 464.41 385.4 467.63 381.67 470.99 377.94 474.45 374.21 477.98 370.48 481.55 366.75 485.12 363.02 488.65 359.29 492.11 355.56 495.47 351.84 498.69 348.11 501.74 344.38 504.58 340.65 507.2 336.92 509.55 333.19 511.63 329.46 513.41 325.73 514.87 322 516 318.28 516.78 314.55 M446.32 431.74 447.1 428.02 448.23 424.29 449.69 420.56 451.47 416.83 453.55 413.1 455.9 409.37 458.52 405.64 461.36 401.91 464.41 398.19 467.63 394.46 470.99 390.73 474.45 387 477.98 383.27 481.55 379.54 485.12 375.81 488.65 372.08 492.11 368.35 495.47 364.63 498.69 360.9 501.74 357.17 504.58 353.44 507.2 349.71 509.55 345.98 511.63 342.25 513.41 338.52 514.87 334.79 516 331.07 516.78 327.34 M446.32 444.53 447.1 440.81 448.23 437.08 449.69 433.35 451.47 429.62 453.55 425.89 455.9 422.16 458.52 418.43 461.36 414.7 464.41 410.98 467.63 407.25 470.99 403.52 474.45 399.79 477.98 396.06 481.55 392.33 485.12 388.6 488.65 384.87 492.11 381.14 495.47 377.42 498.69 373.69 501.74 369.96 504.58 366.23 507.2 362.5 509.55 358.77 511.63 355.04 513.41 351.31 514.87 347.58 516 343.86 516.78 340.13 M446.32 457.32 447.1 453.6 448.23 449.87 449.69 446.14 451.47 442.41 453.55 438.68 455.9 434.95 458.52 431.22 461.36 427.49 464.41 423.77 467.63 420.04 470.99 416.31 474.45 412.58 477.98 408.85 481.55 405.12 485.12 401.39 488.65 397.66 492.11 393.93 495.47 390.21 498.69 386.48 501.74 382.75 504.58 379.02 507.2 375.29 509.55 371.56 511.63 367.83 513.41 364.1 514.87 360.37 516 356.65 516.78 352.92 M446.32 470.11 447.1 466.39 448.23 462.66 449.69 458.93 451.47 455.2 453.55 451.47 455.9 447.74 458.52 444.01 461.36 440.28 464.41 436.56 467.63 432.83 470.99 429.1 474.45 425.37 477.98 421.64 481.55 417.91 485.12 414.18 488.65 410.45 492.11 406.72 495.47 403 498.69 399.27 501.74 395.54 504.58 391.81 507.2 388.08 509.55 384.35 511.63 380.62 513.41 376.89 514.87 373.16 516 369.44 516.78 365.71 M446.32 482.9 447.1 479.18 448.23 475.45 449.69 471.72 451.47 467.99 453.55 464.26 455.9 460.53 458.52 456.8 461.36 453.07 464.41 449.35 467.63 445.62 470.99 441.89 474.45 438.16 477.98 434.43 481.55 430.7 485.12 426.97 488.65 423.24 492.11 419.51 495.47 415.79 498.69 412.06 501.74 408.33 504.58 404.6 507.2 400.87 509.55 397.14 511.63 393.41 513.41 389.68 514.87 385.95 516 382.23 516.78 378.5 M446.32 495.69 447.1 491.97 448.23 488.24 449.69 484.51 451.47 480.78 453.55 477.05 455.9 473.32 458.52 469.59 461.36 465.86 464.41 462.14 467.63 458.41 470.99 454.68 474.45 450.95 477.98 447.22 481.55 443.49 485.12 439.76 488.65 436.03 492.11 432.3 495.47 428.58 498.69 424.85 501.74 421.12 504.58 417.39 507.2 413.66 509.55 409.93 511.63 406.2 513.41 402.47 514.87 398.74 516 395.02 516.78 391.29 M446.32 508.48 447.1 504.76 448.23 501.03 449.69 497.3 451.47 493.57 453.55 489.84 455.9 486.11 458.52 482.38 461.36 478.65 464.41 474.93 467.63 471.2 470.99 467.47 474.45 463.74 477.98 460.01 481.55 456.28 485.12 452.55 488.65 448.82 492.11 445.09 495.47 441.37 498.69 437.64 501.74 433.91 504.58 430.18 507.2 426.45 509.55 422.72 511.63 418.99 513.41 415.26 514.87 411.53 516 407.81 516.78 404.08 M446.32 521.27 447.1 517.55 448.23 513.82 449.69 510.09 451.47 506.36 453.55 502.63 455.9 498.9 458.52 495.17 461.36 491.44 464.41 487.72 467.63 483.99 470.99 480.26 474.45 476.53 477.98 472.8 481.55 469.07 485.12 465.34 488.65 461.61 492.11 457.88 495.47 454.16 498.69 450.43 501.74 446.7 504.58 442.97 507.2 439.24 509.55 435.51 511.63 431.78 513.41 428.05 514.87 424.32 516 420.6 516.78 416.87 M446.32 534.06 447.1 530.34 448.23 526.61 449.69 522.88 451.47 519.15 453.55 515.42 455.9 511.69 458.52 507.96 461.36 504.23 464.41 500.51 467.63 496.78 470.99 493.05 474.45 489.32 477.98 485.59 481.55 481.86 485.12 478.13 488.65 474.4 492.11 470.67 495.47 466.95 498.69 463.22 501.74 459.49 504.58 455.76 507.2 452.03 509.55 448.3 511.63 444.57 513.41 440.84 514.87 437.11 516 433.39 516.78 429.66 M446.32 546.85 447.1 543.13 448.23 539.4 449.69 535.67 451.47 531.94 453.55 528.21 455.9 524.48 458.52 520.75 461.36 517.02 464.41 513.3 467.63 509.57 470.99 505.84 474.45 502.11 477.98 498.38 481.55 494.65 485.12 490.92 488.65 487.19 492.11 483.46 495.47 479.74 498.69 476.01 501.74 472.28 504.58 468.55 507.2 464.82 509.55 461.09 511.63 457.36 513.41 453.63 514.87 449.9 516 446.18 516.78 442.45 M446.32 559.64 447.1 555.92 448.23 552.19 449.69 548.46 451.47 544.73 453.55 541 455.9 537.27 458.52 533.54 461.36 529.81 464.41 526.09 467.63 522.36 470.99 518.63 474.45 514.9 477.98 511.17 481.55 507.44 485.12 503.71 488.65 499.98 492.11 496.25 495.47 492.53 498.69 488.8 501.74 485.07 504.58 481.34 507.2 477.61 509.55 473.88 511.63 470.15 513.41 466.42 514.87 462.69 516 458.97 516.78 455.24 M446.32 572.43 447.1 568.71 448.23 564.98 449.69 561.25 451.47 557.52 453.55 553.79 455.9 550.06 458.52 546.33 461.36 542.6 464.41 538.88 467.63 535.15 470.99 531.42 474.45 527.69 477.98 523.96 481.55 520.23 485.12 516.5 488.65 512.77 492.11 509.04 495.47 505.32 498.69 501.59 501.74 497.86 504.58 494.13 507.2 490.4 509.55 486.67 511.63 482.94 513.41 479.21 514.87 475.48 516 471.76 516.78 468.03 M446.32 585.22 447.1 581.5 448.23 577.77 449.69 574.04 451.47 570.31 453.55 566.58 455.9 562.85 458.52 559.12 461.36 555.39 464.41 551.67 467.63 547.94 470.99 544.21 474.45 540.48 477.98 536.75 481.55 533.02 485.12 529.29 488.65 525.56 492.11 521.83 495.47 518.11 498.69 514.38 501.74 510.65 504.58 506.92 507.2 503.19 509.55 499.46 511.63 495.73 513.41 492 514.87 488.27 516 484.55 516.78 480.82 M446.32 598.01 447.1 594.29 448.23 590.56 449.69 586.83 451.47 583.1 453.55 579.37 455.9 575.64 458.52 571.91 461.36 568.18 464.41 564.46 467.63 560.73 470.99 557 474.45 553.27 477.98 549.54 481.55 545.81 485.12 542.08 488.65 538.35 492.11 534.62 495.47 530.9 498.69 527.17 501.74 523.44 504.58 519.71 507.2 515.98 509.55 512.25 511.63 508.52 513.41 504.79 514.87 501.06 516 497.34 516.78 493.61 M446.32 610.8 447.1 607.08 448.23 603.35 449.69 599.62 451.47 595.89 453.55 592.16 455.9 588.43 458.52 584.7 461.36 580.97 464.41 577.25 467.63 573.52 470.99 569.79 474.45 566.06 477.98 562.33 481.55 558.6 485.12 554.87 488.65 551.14 492.11 547.41 495.47 543.69 498.69 539.96 501.74 536.23 504.58 532.5 507.2 528.77 509.55 525.04 511.63 521.31 513.41 517.58 514.87 513.85 516 510.13 516.78 506.4 M446.32 623.59 447.1 619.87 448.23 616.14 449.69 612.41 451.47 608.68 453.55 604.95 455.9 601.22 458.52 597.49 461.36 593.76 464.41 590.04 467.63 586.31 470.99 582.58 474.45 578.85 477.98 575.12 481.55 571.39 485.12 567.66 488.65 563.93 492.11 560.2 495.47 556.48 498.69 552.75 501.74 549.02 504.58 545.29 507.2 541.56 509.55 537.83 511.63 534.1 513.41 530.37 514.87 526.64 516 522.92 516.78 519.19 M446.32 636.38 447.1 632.66 448.23 628.93 449.69 625.2 451.47 621.47 453.55 617.74 455.9 614.01 458.52 610.28 461.36 606.55 464.41 602.83 467.63 599.1 470.99 595.37 474.45 591.64 477.98 587.91 481.55 584.18 485.12 580.45 488.65 576.72 492.11 572.99 495.47 569.27 498.69 565.54 501.74 561.81 504.58 558.08 507.2 554.35 509.55 550.62 511.63 546.89 513.41 543.16 514.87 539.43 516 535.71 516.78 531.98 M446.32 649.17 447.1 645.45 448.23 641.72 449.69 637.99 451.47 634.26 453.55 630.53 455.9 626.8 458.52 623.07 461.36 619.34 464.41 615.62 467.63 611.89 470.99 608.16 474.45 604.43 477.98 600.7 481.55 596.97 485.12 593.24 488.65 589.51 492.11 585.78 495.47 582.06 498.69 578.33 501.74 574.6 504.58 570.87 507.2 567.14 509.55 563.41 511.63 559.68 513.41 555.95 514.87 552.22 516 548.5 516.78 544.77 M446.32 661.96 447.1 658.24 448.23 654.51 449.69 650.78 451.47 647.05 453.55 643.32 455.9 639.59 458.52 635.86 461.36 632.13 464.41 628.41 467.63 624.68 470.99 620.95 474.45 617.22 477.98 613.49 481.55 609.76 485.12 606.03 488.65 602.3 492.11 598.57 495.47 594.85 498.69 591.12 501.74 587.39 504.58 583.66 507.2 579.93 509.55 576.2 511.63 572.47 513.41 568.74 514.87 565.01 516 561.29 516.78 557.56 M446.32 674.75 447.1 671.03 448.23 667.3 449.69 663.57 451.47 659.84 453.55 656.11 455.9 652.38 458.52 648.65 461.36 644.92 464.41 641.2 467.63 637.47 470.99 633.74 474.45 630.01 477.98 626.28 481.55 622.55 485.12 618.82 488.65 615.09 492.11 611.36 495.47 607.64 498.69 603.91 501.74 600.18 504.58 596.45 507.2 592.72 509.55 588.99 511.63 585.26 513.41 581.53 514.87 577.8 516 574.08 516.78 570.35 M446.32 687.54 447.1 683.82 448.23 680.09 449.69 676.36 451.47 672.63 453.55 668.9 455.9 665.17 458.52 661.44 461.36 657.71 464.41 653.99 467.63 650.26 470.99 646.53 474.45 642.8 477.98 639.07 481.55 635.34 485.12 631.61 488.65 627.88 492.11 624.15 495.47 620.43 498.69 616.7 501.74 612.97 504.58 609.24 507.2 605.51 509.55 601.78 511.63 598.05 513.41 594.32 514.87 590.59 516 586.87 516.78 583.14 M446.32 700.33 447.1 696.61 448.23 692.88 449.69 689.15 451.47 685.42 453.55 681.69 455.9 677.96 458.52 674.23 461.36 670.5 464.41 666.78 467.63 663.05 470.99 659.32 474.45 655.59 477.98 651.86 481.55 648.13 485.12 644.4 488.65 640.67 492.11 636.94 495.47 633.22 498.69 629.49 501.74 625.76 504.58 622.03 507.2 618.3 509.55 614.57 511.63 610.84 513.41 607.11 514.87 603.38 516 599.66 516.78 595.93 M446.32 713.12 447.1 709.4 448.23 705.67 449.69 701.94 451.47 698.21 453.55 694.48 455.9 690.75 458.52 687.02 461.36 683.29 464.41 679.57 467.63 675.84 470.99 672.11 474.45 668.38 477.98 664.65 481.55 660.92 485.12 657.19 488.65 653.46 492.11 649.73 495.47 646.01 498.69 642.28 501.74 638.55 504.58 634.82 507.2 631.09 509.55 627.36 511.63 623.63 513.41 619.9 514.87 616.17 516 612.45 516.78 608.72 M446.32 725.91 447.1 722.19 448.23 718.46 449.69 714.73 451.47 711 453.55 707.27 455.9 703.54 458.52 699.81 461.36 696.08 464.41 692.36 467.63 688.63 470.99 684.9 474.45 681.17 477.98 677.44 481.55 673.71 485.12 669.98 488.65 666.25 492.11 662.52 495.47 658.8 498.69 655.07 501.74 651.34 504.58 647.61 507.2 643.88 509.55 640.15 511.63 636.42 513.41 632.69 514.87 628.96 516 625.24 516.78 621.51 M446.32 738.7 447.1 734.98 448.23 731.25 449.69 727.52 451.47 723.79 453.55 720.06 455.9 716.33 458.52 712.6 461.36 708.87 464.41 705.15 467.63 701.42 470.99 697.69 474.45 693.96 477.98 690.23 481.55 686.5 485.12 682.77 488.65 679.04 492.11 675.31 495.47 671.59 498.69 667.86 501.74 664.13 504.58 660.4 507.2 656.67 509.55 652.94 511.63 649.21 513.41 645.48 514.87 641.75 516 638.03 516.78 634.3 M446.32 751.49 447.1 747.77 448.23 744.04 449.69 740.31 451.47 736.58 453.55 732.85 455.9 729.12 458.52 725.39 461.36 721.66 464.41 717.94 467.63 714.21 470.99 710.48 474.45 706.75 477.98 703.02 481.55 699.29 485.12 695.56 488.65 691.83 492.11 688.1 495.47 684.38 498.69 680.65 501.74 676.92 504.58 673.19 507.2 669.46 509.55 665.73 511.63 662 513.41 658.27 514.87 654.54 516 650.82 516.78 647.09 M446.32 764.28 447.1 760.56 448.23 756.83 449.69 753.1 451.47 749.37 453.55 745.64 455.9 741.91 458.52 738.18 461.36 734.45 464.41 730.73 467.63 727 470.99 723.27 474.45 719.54 477.98 715.81 481.55 712.08 485.12 708.35 488.65 704.62 492.11 700.89 495.47 697.17 498.69 693.44 501.74 689.71 504.58 685.98 507.2 682.25 509.55 678.52 511.63 674.79 513.41 671.06 514.87 667.33 516 663.61 516.78 659.88 M446.32 777.07 447.1 773.35 448.23 769.62 449.69 765.89 451.47 762.16 453.55 758.43 455.9 754.7 458.52 750.97 461.36 747.24 464.41 743.52 467.63 739.79 470.99 736.06 474.45 732.33 477.98 728.6 481.55 724.87 485.12 721.14 488.65 717.41 492.11 713.68 495.47 709.96 498.69 706.23 501.74 702.5 504.58 698.77 507.2 695.04 509.55 691.31 511.63 687.58 513.41 683.85 514.87 680.12 516 676.4 516.78 672.67 M446.32 789.86 447.1 786.14 448.23 782.41 449.69 778.68 451.47 774.95 453.55 771.22 455.9 767.49 458.52 763.76 461.36 760.03 464.41 756.31 467.63 752.58 470.99 748.85 474.45 745.12 477.98 741.39 481.55 737.66 485.12 733.93 488.65 730.2 492.11 726.47 495.47 722.75 498.69 719.02 501.74 715.29 504.58 711.56 507.2 707.83 509.55 704.1 511.63 700.37 513.41 696.64 514.87 692.91 516 689.19 516.78 685.46 M446.32 802.65 447.1 798.93 448.23 795.2 449.69 791.47 451.47 787.74 453.55 784.01 455.9 780.28 458.52 776.55 461.36 772.82 464.41 769.1 467.63 765.37 470.99 761.64 474.45 757.91 477.98 754.18 481.55 750.45 485.12 746.72 488.65 742.99 492.11 739.26 495.47 735.54 498.69 731.81 501.74 728.08 504.58 724.35 507.2 720.62 509.55 716.89 511.63 713.16 513.41 709.43 514.87 705.7 516 701.98 516.78 698.25 M446.32 815.44 447.1 811.72 448.23 807.99 449.69 804.26 451.47 800.53 453.55 796.8 455.9 793.07 458.52 789.34 461.36 785.61 464.41 781.89 467.63 778.16 470.99 774.43 474.45 770.7 477.98 766.97 481.55 763.24 485.12 759.51 488.65 755.78 492.11 752.05 495.47 748.33 498.69 744.6 501.74 740.87 504.58 737.14 507.2 733.41 509.55 729.68 511.63 725.95 513.41 722.22 514.87 718.49 516 714.77 516.78 711.04 M446.32 828.23 447.1 824.51 448.23 820.78 449.69 817.05 451.47 813.32 453.55 809.59 455.9 805.86 458.52 802.13 461.36 798.4 464.41 794.68 467.63 790.95 470.99 787.22 474.45 783.49 477.98 779.76 481.55 776.03 485.12 772.3 488.65 768.57 492.11 764.84 495.47 761.12 498.69 757.39 501.74 753.66 504.58 749.93 507.2 746.2 509.55 742.47 511.63 738.74 513.41 735.01 514.87 731.28 516 727.56 516.78 723.83 M446.32 841.02 447.1 837.3 448.23 833.57 449.69 829.84 451.47 826.11 453.55 822.38 455.9 818.65 458.52 814.92 461.36 811.19 464.41 807.47 467.63 803.74 470.99 800.01 474.45 796.28 477.98 792.55 481.55 788.82 485.12 785.09 488.65 781.36 492.11 777.63 495.47 773.91 498.69 770.18 501.74 766.45 504.58 762.72 507.2 758.99 509.55 755.26 511.63 751.53 513.41 747.8 514.87 744.07 516 740.35 516.78 736.62 M446.32 853.81 447.1 850.09 448.23 846.36 449.69 842.63 451.47 838.9 453.55 835.17 455.9 831.44 458.52 827.71 461.36 823.98 464.41 820.26 467.63 816.53 470.99 812.8 474.45 809.07 477.98 805.34 481.55 801.61 485.12 797.88 488.65 794.15 492.11 790.42 495.47 786.7 498.69 782.97 501.74 779.24 504.58 775.51 507.2 771.78 509.55 768.05 511.63 764.32 513.41 760.59 514.87 756.86 516 753.14 516.78 749.41 M446.32 866.6 447.1 862.88 448.23 859.15 449.69 855.42 451.47 851.69 453.55 847.96 455.9 844.23 458.52 840.5 461.36 836.77 464.41 833.05 467.63 829.32 470.99 825.59 474.45 821.86 477.98 818.13 481.55 814.4 485.12 810.67 488.65 806.94 492.11 803.21 495.47 799.49 498.69 795.76 501.74 792.03 504.58 788.3 507.2 784.57 509.55 780.84 511.63 777.11 513.41 773.38 514.87 769.65 516 765.93 516.78 762.2 M446.32 879.39 447.1 875.67 448.23 871.94 449.69 868.21 451.47 864.48 453.55 860.75 455.9 857.02 458.52 853.29 461.36 849.56 464.41 845.84 467.63 842.11 470.99 838.38 474.45 834.65 477.98 830.92 481.55 827.19 485.12 823.46 488.65 819.73 492.11 816 495.47 812.28 498.69 808.55 501.74 804.82 504.58 801.09 507.2 797.36 509.55 793.63 511.63 789.9 513.41 786.17 514.87 782.44 516 778.72 516.78 774.99 M446.32 892.18 447.1 888.46 448.23 884.73 449.69 881 451.47 877.27 453.55 873.54 455.9 869.81 458.52 866.08 461.36 862.35 464.41 858.63 467.63 854.9 470.99 851.17 474.45 847.44 477.98 843.71 481.55 839.98 485.12 836.25 488.65 832.52 492.11 828.79 495.47 825.07 498.69 821.34 501.74 817.61 504.58 813.88 507.2 810.15 509.55 806.42 511.63 802.69 513.41 798.96 514.87 795.23 516 791.51 516.78 787.78 M446.32 904.97 447.1 901.25 448.23 897.52 449.69 893.79 451.47 890.06 453.55 886.33 455.9 882.6 458.52 878.87 461.36 875.14 464.41 871.42 467.63 867.69 470.99 863.96 474.45 860.23 477.98 856.5 481.55 852.77 485.12 849.04 488.65 845.31 492.11 841.58 495.47 837.86 498.69 834.13 501.74 830.4 504.58 826.67 507.2 822.94 509.55 819.21 511.63 815.48 513.41 811.75 514.87 808.02 516 804.3 516.78 800.57 M446.32 917.76 447.1 914.04 448.23 910.31 449.69 906.58 451.47 902.85 453.55 899.12 455.9 895.39 458.52 891.66 461.36 887.93 464.41 884.21 467.63 880.48 470.99 876.75 474.45 873.02 477.98 869.29 481.55 865.56 485.12 861.83 488.65 858.1 492.11 854.37 495.47 850.65 498.69 846.92 501.74 843.19 504.58 839.46 507.2 835.73 509.55 832 511.63 828.27 513.41 824.54 514.87 820.81 516 817.09 516.78 813.36"/></g><g clip-path="url(#kc2)"><path d="M797.82 250.6 798.6 254.33 799.73 258.05 801.19 261.78 802.97 265.51 805.05 269.24 807.4 272.97 810.02 276.7 812.86 280.43 815.91 284.16 819.13 287.89 822.49 291.61 825.95 295.34 829.48 299.07 833.05 302.8 836.62 306.53 840.15 310.26 843.61 313.99 846.97 317.72 850.19 321.45 853.24 325.17 856.08 328.9 858.7 332.63 861.05 336.36 863.13 340.09 864.91 343.82 866.37 347.55 867.5 351.28 868.28 355 M797.82 263.39 798.6 267.12 799.73 270.84 801.19 274.57 802.97 278.3 805.05 282.03 807.4 285.76 810.02 289.49 812.86 293.22 815.91 296.95 819.13 300.68 822.49 304.4 825.95 308.13 829.48 311.86 833.05 315.59 836.62 319.32 840.15 323.05 843.61 326.78 846.97 330.51 850.19 334.24 853.24 337.96 856.08 341.69 858.7 345.42 861.05 349.15 863.13 352.88 864.91 356.61 866.37 360.34 867.5 364.07 868.28 367.79 M797.82 276.18 798.6 279.91 799.73 283.63 801.19 287.36 802.97 291.09 805.05 294.82 807.4 298.55 810.02 302.28 812.86 306.01 815.91 309.74 819.13 313.47 822.49 317.19 825.95 320.92 829.48 324.65 833.05 328.38 836.62 332.11 840.15 335.84 843.61 339.57 846.97 343.3 850.19 347.03 853.24 350.75 856.08 354.48 858.7 358.21 861.05 361.94 863.13 365.67 864.91 369.4 866.37 373.13 867.5 376.86 868.28 380.58 M797.82 288.97 798.6 292.7 799.73 296.42 801.19 300.15 802.97 303.88 805.05 307.61 807.4 311.34 810.02 315.07 812.86 318.8 815.91 322.53 819.13 326.26 822.49 329.98 825.95 333.71 829.48 337.44 833.05 341.17 836.62 344.9 840.15 348.63 843.61 352.36 846.97 356.09 850.19 359.82 853.24 363.54 856.08 367.27 858.7 371 861.05 374.73 863.13 378.46 864.91 382.19 866.37 385.92 867.5 389.65 868.28 393.37 M797.82 301.76 798.6 305.49 799.73 309.21 801.19 312.94 802.97 316.67 805.05 320.4 807.4 324.13 810.02 327.86 812.86 331.59 815.91 335.32 819.13 339.05 822.49 342.77 825.95 346.5 829.48 350.23 833.05 353.96 836.62 357.69 840.15 361.42 843.61 365.15 846.97 368.88 850.19 372.61 853.24 376.33 856.08 380.06 858.7 383.79 861.05 387.52 863.13 391.25 864.91 394.98 866.37 398.71 867.5 402.44 868.28 406.16 M797.82 314.55 798.6 318.28 799.73 322 801.19 325.73 802.97 329.46 805.05 333.19 807.4 336.92 810.02 340.65 812.86 344.38 815.91 348.11 819.13 351.84 822.49 355.56 825.95 359.29 829.48 363.02 833.05 366.75 836.62 370.48 840.15 374.21 843.61 377.94 846.97 381.67 850.19 385.4 853.24 389.12 856.08 392.85 858.7 396.58 861.05 400.31 863.13 404.04 864.91 407.77 866.37 411.5 867.5 415.23 868.28 418.95 M797.82 327.34 798.6 331.07 799.73 334.79 801.19 338.52 802.97 342.25 805.05 345.98 807.4 349.71 810.02 353.44 812.86 357.17 815.91 360.9 819.13 364.63 822.49 368.35 825.95 372.08 829.48 375.81 833.05 379.54 836.62 383.27 840.15 387 843.61 390.73 846.97 394.46 850.19 398.19 853.24 401.91 856.08 405.64 858.7 409.37 861.05 413.1 863.13 416.83 864.91 420.56 866.37 424.29 867.5 428.02 868.28 431.74 M797.82 340.13 798.6 343.86 799.73 347.58 801.19 351.31 802.97 355.04 805.05 358.77 807.4 362.5 810.02 366.23 812.86 369.96 815.91 373.69 819.13 377.42 822.49 381.14 825.95 384.87 829.48 388.6 833.05 392.33 836.62 396.06 840.15 399.79 843.61 403.52 846.97 407.25 850.19 410.98 853.24 414.7 856.08 418.43 858.7 422.16 861.05 425.89 863.13 429.62 864.91 433.35 866.37 437.08 867.5 440.81 868.28 444.53 M797.82 352.92 798.6 356.65 799.73 360.37 801.19 364.1 802.97 367.83 805.05 371.56 807.4 375.29 810.02 379.02 812.86 382.75 815.91 386.48 819.13 390.21 822.49 393.93 825.95 397.66 829.48 401.39 833.05 405.12 836.62 408.85 840.15 412.58 843.61 416.31 846.97 420.04 850.19 423.77 853.24 427.49 856.08 431.22 858.7 434.95 861.05 438.68 863.13 442.41 864.91 446.14 866.37 449.87 867.5 453.6 868.28 457.32 M797.82 365.71 798.6 369.44 799.73 373.16 801.19 376.89 802.97 380.62 805.05 384.35 807.4 388.08 810.02 391.81 812.86 395.54 815.91 399.27 819.13 403 822.49 406.72 825.95 410.45 829.48 414.18 833.05 417.91 836.62 421.64 840.15 425.37 843.61 429.1 846.97 432.83 850.19 436.56 853.24 440.28 856.08 444.01 858.7 447.74 861.05 451.47 863.13 455.2 864.91 458.93 866.37 462.66 867.5 466.39 868.28 470.11 M797.82 378.5 798.6 382.23 799.73 385.95 801.19 389.68 802.97 393.41 805.05 397.14 807.4 400.87 810.02 404.6 812.86 408.33 815.91 412.06 819.13 415.79 822.49 419.51 825.95 423.24 829.48 426.97 833.05 430.7 836.62 434.43 840.15 438.16 843.61 441.89 846.97 445.62 850.19 449.35 853.24 453.07 856.08 456.8 858.7 460.53 861.05 464.26 863.13 467.99 864.91 471.72 866.37 475.45 867.5 479.18 868.28 482.9 M797.82 391.29 798.6 395.02 799.73 398.74 801.19 402.47 802.97 406.2 805.05 409.93 807.4 413.66 810.02 417.39 812.86 421.12 815.91 424.85 819.13 428.58 822.49 432.3 825.95 436.03 829.48 439.76 833.05 443.49 836.62 447.22 840.15 450.95 843.61 454.68 846.97 458.41 850.19 462.14 853.24 465.86 856.08 469.59 858.7 473.32 861.05 477.05 863.13 480.78 864.91 484.51 866.37 488.24 867.5 491.97 868.28 495.69 M797.82 404.08 798.6 407.81 799.73 411.53 801.19 415.26 802.97 418.99 805.05 422.72 807.4 426.45 810.02 430.18 812.86 433.91 815.91 437.64 819.13 441.37 822.49 445.09 825.95 448.82 829.48 452.55 833.05 456.28 836.62 460.01 840.15 463.74 843.61 467.47 846.97 471.2 850.19 474.93 853.24 478.65 856.08 482.38 858.7 486.11 861.05 489.84 863.13 493.57 864.91 497.3 866.37 501.03 867.5 504.76 868.28 508.48 M797.82 416.87 798.6 420.6 799.73 424.32 801.19 428.05 802.97 431.78 805.05 435.51 807.4 439.24 810.02 442.97 812.86 446.7 815.91 450.43 819.13 454.16 822.49 457.88 825.95 461.61 829.48 465.34 833.05 469.07 836.62 472.8 840.15 476.53 843.61 480.26 846.97 483.99 850.19 487.72 853.24 491.44 856.08 495.17 858.7 498.9 861.05 502.63 863.13 506.36 864.91 510.09 866.37 513.82 867.5 517.55 868.28 521.27 M797.82 429.66 798.6 433.39 799.73 437.11 801.19 440.84 802.97 444.57 805.05 448.3 807.4 452.03 810.02 455.76 812.86 459.49 815.91 463.22 819.13 466.95 822.49 470.67 825.95 474.4 829.48 478.13 833.05 481.86 836.62 485.59 840.15 489.32 843.61 493.05 846.97 496.78 850.19 500.51 853.24 504.23 856.08 507.96 858.7 511.69 861.05 515.42 863.13 519.15 864.91 522.88 866.37 526.61 867.5 530.34 868.28 534.06 M797.82 442.45 798.6 446.18 799.73 449.9 801.19 453.63 802.97 457.36 805.05 461.09 807.4 464.82 810.02 468.55 812.86 472.28 815.91 476.01 819.13 479.74 822.49 483.46 825.95 487.19 829.48 490.92 833.05 494.65 836.62 498.38 840.15 502.11 843.61 505.84 846.97 509.57 850.19 513.3 853.24 517.02 856.08 520.75 858.7 524.48 861.05 528.21 863.13 531.94 864.91 535.67 866.37 539.4 867.5 543.13 868.28 546.85 M797.82 455.24 798.6 458.97 799.73 462.69 801.19 466.42 802.97 470.15 805.05 473.88 807.4 477.61 810.02 481.34 812.86 485.07 815.91 488.8 819.13 492.53 822.49 496.25 825.95 499.98 829.48 503.71 833.05 507.44 836.62 511.17 840.15 514.9 843.61 518.63 846.97 522.36 850.19 526.09 853.24 529.81 856.08 533.54 858.7 537.27 861.05 541 863.13 544.73 864.91 548.46 866.37 552.19 867.5 555.92 868.28 559.64 M797.82 468.03 798.6 471.76 799.73 475.48 801.19 479.21 802.97 482.94 805.05 486.67 807.4 490.4 810.02 494.13 812.86 497.86 815.91 501.59 819.13 505.32 822.49 509.04 825.95 512.77 829.48 516.5 833.05 520.23 836.62 523.96 840.15 527.69 843.61 531.42 846.97 535.15 850.19 538.88 853.24 542.6 856.08 546.33 858.7 550.06 861.05 553.79 863.13 557.52 864.91 561.25 866.37 564.98 867.5 568.71 868.28 572.43 M797.82 480.82 798.6 484.55 799.73 488.27 801.19 492 802.97 495.73 805.05 499.46 807.4 503.19 810.02 506.92 812.86 510.65 815.91 514.38 819.13 518.11 822.49 521.83 825.95 525.56 829.48 529.29 833.05 533.02 836.62 536.75 840.15 540.48 843.61 544.21 846.97 547.94 850.19 551.67 853.24 555.39 856.08 559.12 858.7 562.85 861.05 566.58 863.13 570.31 864.91 574.04 866.37 577.77 867.5 581.5 868.28 585.22 M797.82 493.61 798.6 497.34 799.73 501.06 801.19 504.79 802.97 508.52 805.05 512.25 807.4 515.98 810.02 519.71 812.86 523.44 815.91 527.17 819.13 530.9 822.49 534.62 825.95 538.35 829.48 542.08 833.05 545.81 836.62 549.54 840.15 553.27 843.61 557 846.97 560.73 850.19 564.46 853.24 568.18 856.08 571.91 858.7 575.64 861.05 579.37 863.13 583.1 864.91 586.83 866.37 590.56 867.5 594.29 868.28 598.01 M797.82 506.4 798.6 510.13 799.73 513.85 801.19 517.58 802.97 521.31 805.05 525.04 807.4 528.77 810.02 532.5 812.86 536.23 815.91 539.96 819.13 543.69 822.49 547.41 825.95 551.14 829.48 554.87 833.05 558.6 836.62 562.33 840.15 566.06 843.61 569.79 846.97 573.52 850.19 577.25 853.24 580.97 856.08 584.7 858.7 588.43 861.05 592.16 863.13 595.89 864.91 599.62 866.37 603.35 867.5 607.08 868.28 610.8 M797.82 519.19 798.6 522.92 799.73 526.64 801.19 530.37 802.97 534.1 805.05 537.83 807.4 541.56 810.02 545.29 812.86 549.02 815.91 552.75 819.13 556.48 822.49 560.2 825.95 563.93 829.48 567.66 833.05 571.39 836.62 575.12 840.15 578.85 843.61 582.58 846.97 586.31 850.19 590.04 853.24 593.76 856.08 597.49 858.7 601.22 861.05 604.95 863.13 608.68 864.91 612.41 866.37 616.14 867.5 619.87 868.28 623.59 M797.82 531.98 798.6 535.71 799.73 539.43 801.19 543.16 802.97 546.89 805.05 550.62 807.4 554.35 810.02 558.08 812.86 561.81 815.91 565.54 819.13 569.27 822.49 572.99 825.95 576.72 829.48 580.45 833.05 584.18 836.62 587.91 840.15 591.64 843.61 595.37 846.97 599.1 850.19 602.83 853.24 606.55 856.08 610.28 858.7 614.01 861.05 617.74 863.13 621.47 864.91 625.2 866.37 628.93 867.5 632.66 868.28 636.38 M797.82 544.77 798.6 548.5 799.73 552.22 801.19 555.95 802.97 559.68 805.05 563.41 807.4 567.14 810.02 570.87 812.86 574.6 815.91 578.33 819.13 582.06 822.49 585.78 825.95 589.51 829.48 593.24 833.05 596.97 836.62 600.7 840.15 604.43 843.61 608.16 846.97 611.89 850.19 615.62 853.24 619.34 856.08 623.07 858.7 626.8 861.05 630.53 863.13 634.26 864.91 637.99 866.37 641.72 867.5 645.45 868.28 649.17 M797.82 557.56 798.6 561.29 799.73 565.01 801.19 568.74 802.97 572.47 805.05 576.2 807.4 579.93 810.02 583.66 812.86 587.39 815.91 591.12 819.13 594.85 822.49 598.57 825.95 602.3 829.48 606.03 833.05 609.76 836.62 613.49 840.15 617.22 843.61 620.95 846.97 624.68 850.19 628.41 853.24 632.13 856.08 635.86 858.7 639.59 861.05 643.32 863.13 647.05 864.91 650.78 866.37 654.51 867.5 658.24 868.28 661.96 M797.82 570.35 798.6 574.08 799.73 577.8 801.19 581.53 802.97 585.26 805.05 588.99 807.4 592.72 810.02 596.45 812.86 600.18 815.91 603.91 819.13 607.64 822.49 611.36 825.95 615.09 829.48 618.82 833.05 622.55 836.62 626.28 840.15 630.01 843.61 633.74 846.97 637.47 850.19 641.2 853.24 644.92 856.08 648.65 858.7 652.38 861.05 656.11 863.13 659.84 864.91 663.57 866.37 667.3 867.5 671.03 868.28 674.75 M797.82 583.14 798.6 586.87 799.73 590.59 801.19 594.32 802.97 598.05 805.05 601.78 807.4 605.51 810.02 609.24 812.86 612.97 815.91 616.7 819.13 620.43 822.49 624.15 825.95 627.88 829.48 631.61 833.05 635.34 836.62 639.07 840.15 642.8 843.61 646.53 846.97 650.26 850.19 653.99 853.24 657.71 856.08 661.44 858.7 665.17 861.05 668.9 863.13 672.63 864.91 676.36 866.37 680.09 867.5 683.82 868.28 687.54 M797.82 595.93 798.6 599.66 799.73 603.38 801.19 607.11 802.97 610.84 805.05 614.57 807.4 618.3 810.02 622.03 812.86 625.76 815.91 629.49 819.13 633.22 822.49 636.94 825.95 640.67 829.48 644.4 833.05 648.13 836.62 651.86 840.15 655.59 843.61 659.32 846.97 663.05 850.19 666.78 853.24 670.5 856.08 674.23 858.7 677.96 861.05 681.69 863.13 685.42 864.91 689.15 866.37 692.88 867.5 696.61 868.28 700.33 M797.82 608.72 798.6 612.45 799.73 616.17 801.19 619.9 802.97 623.63 805.05 627.36 807.4 631.09 810.02 634.82 812.86 638.55 815.91 642.28 819.13 646.01 822.49 649.73 825.95 653.46 829.48 657.19 833.05 660.92 836.62 664.65 840.15 668.38 843.61 672.11 846.97 675.84 850.19 679.57 853.24 683.29 856.08 687.02 858.7 690.75 861.05 694.48 863.13 698.21 864.91 701.94 866.37 705.67 867.5 709.4 868.28 713.12 M797.82 621.51 798.6 625.24 799.73 628.96 801.19 632.69 802.97 636.42 805.05 640.15 807.4 643.88 810.02 647.61 812.86 651.34 815.91 655.07 819.13 658.8 822.49 662.52 825.95 666.25 829.48 669.98 833.05 673.71 836.62 677.44 840.15 681.17 843.61 684.9 846.97 688.63 850.19 692.36 853.24 696.08 856.08 699.81 858.7 703.54 861.05 707.27 863.13 711 864.91 714.73 866.37 718.46 867.5 722.19 868.28 725.91 M797.82 634.3 798.6 638.03 799.73 641.75 801.19 645.48 802.97 649.21 805.05 652.94 807.4 656.67 810.02 660.4 812.86 664.13 815.91 667.86 819.13 671.59 822.49 675.31 825.95 679.04 829.48 682.77 833.05 686.5 836.62 690.23 840.15 693.96 843.61 697.69 846.97 701.42 850.19 705.15 853.24 708.87 856.08 712.6 858.7 716.33 861.05 720.06 863.13 723.79 864.91 727.52 866.37 731.25 867.5 734.98 868.28 738.7 M797.82 647.09 798.6 650.82 799.73 654.54 801.19 658.27 802.97 662 805.05 665.73 807.4 669.46 810.02 673.19 812.86 676.92 815.91 680.65 819.13 684.38 822.49 688.1 825.95 691.83 829.48 695.56 833.05 699.29 836.62 703.02 840.15 706.75 843.61 710.48 846.97 714.21 850.19 717.94 853.24 721.66 856.08 725.39 858.7 729.12 861.05 732.85 863.13 736.58 864.91 740.31 866.37 744.04 867.5 747.77 868.28 751.49 M797.82 659.88 798.6 663.61 799.73 667.33 801.19 671.06 802.97 674.79 805.05 678.52 807.4 682.25 810.02 685.98 812.86 689.71 815.91 693.44 819.13 697.17 822.49 700.89 825.95 704.62 829.48 708.35 833.05 712.08 836.62 715.81 840.15 719.54 843.61 723.27 846.97 727 850.19 730.73 853.24 734.45 856.08 738.18 858.7 741.91 861.05 745.64 863.13 749.37 864.91 753.1 866.37 756.83 867.5 760.56 868.28 764.28 M797.82 672.67 798.6 676.4 799.73 680.12 801.19 683.85 802.97 687.58 805.05 691.31 807.4 695.04 810.02 698.77 812.86 702.5 815.91 706.23 819.13 709.96 822.49 713.68 825.95 717.41 829.48 721.14 833.05 724.87 836.62 728.6 840.15 732.33 843.61 736.06 846.97 739.79 850.19 743.52 853.24 747.24 856.08 750.97 858.7 754.7 861.05 758.43 863.13 762.16 864.91 765.89 866.37 769.62 867.5 773.35 868.28 777.07 M797.82 685.46 798.6 689.19 799.73 692.91 801.19 696.64 802.97 700.37 805.05 704.1 807.4 707.83 810.02 711.56 812.86 715.29 815.91 719.02 819.13 722.75 822.49 726.47 825.95 730.2 829.48 733.93 833.05 737.66 836.62 741.39 840.15 745.12 843.61 748.85 846.97 752.58 850.19 756.31 853.24 760.03 856.08 763.76 858.7 767.49 861.05 771.22 863.13 774.95 864.91 778.68 866.37 782.41 867.5 786.14 868.28 789.86 M797.82 698.25 798.6 701.98 799.73 705.7 801.19 709.43 802.97 713.16 805.05 716.89 807.4 720.62 810.02 724.35 812.86 728.08 815.91 731.81 819.13 735.54 822.49 739.26 825.95 742.99 829.48 746.72 833.05 750.45 836.62 754.18 840.15 757.91 843.61 761.64 846.97 765.37 850.19 769.1 853.24 772.82 856.08 776.55 858.7 780.28 861.05 784.01 863.13 787.74 864.91 791.47 866.37 795.2 867.5 798.93 868.28 802.65 M797.82 711.04 798.6 714.77 799.73 718.49 801.19 722.22 802.97 725.95 805.05 729.68 807.4 733.41 810.02 737.14 812.86 740.87 815.91 744.6 819.13 748.33 822.49 752.05 825.95 755.78 829.48 759.51 833.05 763.24 836.62 766.97 840.15 770.7 843.61 774.43 846.97 778.16 850.19 781.89 853.24 785.61 856.08 789.34 858.7 793.07 861.05 796.8 863.13 800.53 864.91 804.26 866.37 807.99 867.5 811.72 868.28 815.44 M797.82 723.83 798.6 727.56 799.73 731.28 801.19 735.01 802.97 738.74 805.05 742.47 807.4 746.2 810.02 749.93 812.86 753.66 815.91 757.39 819.13 761.12 822.49 764.84 825.95 768.57 829.48 772.3 833.05 776.03 836.62 779.76 840.15 783.49 843.61 787.22 846.97 790.95 850.19 794.68 853.24 798.4 856.08 802.13 858.7 805.86 861.05 809.59 863.13 813.32 864.91 817.05 866.37 820.78 867.5 824.51 868.28 828.23 M797.82 736.62 798.6 740.35 799.73 744.07 801.19 747.8 802.97 751.53 805.05 755.26 807.4 758.99 810.02 762.72 812.86 766.45 815.91 770.18 819.13 773.91 822.49 777.63 825.95 781.36 829.48 785.09 833.05 788.82 836.62 792.55 840.15 796.28 843.61 800.01 846.97 803.74 850.19 807.47 853.24 811.19 856.08 814.92 858.7 818.65 861.05 822.38 863.13 826.11 864.91 829.84 866.37 833.57 867.5 837.3 868.28 841.02 M797.82 749.41 798.6 753.14 799.73 756.86 801.19 760.59 802.97 764.32 805.05 768.05 807.4 771.78 810.02 775.51 812.86 779.24 815.91 782.97 819.13 786.7 822.49 790.42 825.95 794.15 829.48 797.88 833.05 801.61 836.62 805.34 840.15 809.07 843.61 812.8 846.97 816.53 850.19 820.26 853.24 823.98 856.08 827.71 858.7 831.44 861.05 835.17 863.13 838.9 864.91 842.63 866.37 846.36 867.5 850.09 868.28 853.81 M797.82 762.2 798.6 765.93 799.73 769.65 801.19 773.38 802.97 777.11 805.05 780.84 807.4 784.57 810.02 788.3 812.86 792.03 815.91 795.76 819.13 799.49 822.49 803.21 825.95 806.94 829.48 810.67 833.05 814.4 836.62 818.13 840.15 821.86 843.61 825.59 846.97 829.32 850.19 833.05 853.24 836.77 856.08 840.5 858.7 844.23 861.05 847.96 863.13 851.69 864.91 855.42 866.37 859.15 867.5 862.88 868.28 866.6 M797.82 774.99 798.6 778.72 799.73 782.44 801.19 786.17 802.97 789.9 805.05 793.63 807.4 797.36 810.02 801.09 812.86 804.82 815.91 808.55 819.13 812.28 822.49 816 825.95 819.73 829.48 823.46 833.05 827.19 836.62 830.92 840.15 834.65 843.61 838.38 846.97 842.11 850.19 845.84 853.24 849.56 856.08 853.29 858.7 857.02 861.05 860.75 863.13 864.48 864.91 868.21 866.37 871.94 867.5 875.67 868.28 879.39 M797.82 787.78 798.6 791.51 799.73 795.23 801.19 798.96 802.97 802.69 805.05 806.42 807.4 810.15 810.02 813.88 812.86 817.61 815.91 821.34 819.13 825.07 822.49 828.79 825.95 832.52 829.48 836.25 833.05 839.98 836.62 843.71 840.15 847.44 843.61 851.17 846.97 854.9 850.19 858.63 853.24 862.35 856.08 866.08 858.7 869.81 861.05 873.54 863.13 877.27 864.91 881 866.37 884.73 867.5 888.46 868.28 892.18 M797.82 800.57 798.6 804.3 799.73 808.02 801.19 811.75 802.97 815.48 805.05 819.21 807.4 822.94 810.02 826.67 812.86 830.4 815.91 834.13 819.13 837.86 822.49 841.58 825.95 845.31 829.48 849.04 833.05 852.77 836.62 856.5 840.15 860.23 843.61 863.96 846.97 867.69 850.19 871.42 853.24 875.14 856.08 878.87 858.7 882.6 861.05 886.33 863.13 890.06 864.91 893.79 866.37 897.52 867.5 901.25 868.28 904.97 M797.82 813.36 798.6 817.09 799.73 820.81 801.19 824.54 802.97 828.27 805.05 832 807.4 835.73 810.02 839.46 812.86 843.19 815.91 846.92 819.13 850.65 822.49 854.37 825.95 858.1 829.48 861.83 833.05 865.56 836.62 869.29 840.15 873.02 843.61 876.75 846.97 880.48 850.19 884.21 853.24 887.93 856.08 891.66 858.7 895.39 861.05 899.12 863.13 902.85 864.91 906.58 866.37 910.31 867.5 914.04 868.28 917.76 M797.82 359.29 798.6 355.56 799.73 351.84 801.19 348.11 802.97 344.38 805.05 340.65 807.4 336.92 810.02 333.19 812.86 329.46 815.91 325.73 819.13 322 822.49 318.28 825.95 314.55 829.48 310.82 833.05 307.09 836.62 303.36 840.15 299.63 843.61 295.9 846.97 292.17 850.19 288.44 853.24 284.72 856.08 280.99 858.7 277.26 861.05 273.53 863.13 269.8 864.91 266.07 866.37 262.34 867.5 258.61 868.28 254.89 M797.82 372.08 798.6 368.35 799.73 364.63 801.19 360.9 802.97 357.17 805.05 353.44 807.4 349.71 810.02 345.98 812.86 342.25 815.91 338.52 819.13 334.79 822.49 331.07 825.95 327.34 829.48 323.61 833.05 319.88 836.62 316.15 840.15 312.42 843.61 308.69 846.97 304.96 850.19 301.23 853.24 297.51 856.08 293.78 858.7 290.05 861.05 286.32 863.13 282.59 864.91 278.86 866.37 275.13 867.5 271.4 868.28 267.68 M797.82 384.87 798.6 381.14 799.73 377.42 801.19 373.69 802.97 369.96 805.05 366.23 807.4 362.5 810.02 358.77 812.86 355.04 815.91 351.31 819.13 347.58 822.49 343.86 825.95 340.13 829.48 336.4 833.05 332.67 836.62 328.94 840.15 325.21 843.61 321.48 846.97 317.75 850.19 314.02 853.24 310.3 856.08 306.57 858.7 302.84 861.05 299.11 863.13 295.38 864.91 291.65 866.37 287.92 867.5 284.19 868.28 280.47 M797.82 397.66 798.6 393.93 799.73 390.21 801.19 386.48 802.97 382.75 805.05 379.02 807.4 375.29 810.02 371.56 812.86 367.83 815.91 364.1 819.13 360.37 822.49 356.65 825.95 352.92 829.48 349.19 833.05 345.46 836.62 341.73 840.15 338 843.61 334.27 846.97 330.54 850.19 326.81 853.24 323.09 856.08 319.36 858.7 315.63 861.05 311.9 863.13 308.17 864.91 304.44 866.37 300.71 867.5 296.98 868.28 293.26 M797.82 410.45 798.6 406.72 799.73 403 801.19 399.27 802.97 395.54 805.05 391.81 807.4 388.08 810.02 384.35 812.86 380.62 815.91 376.89 819.13 373.16 822.49 369.44 825.95 365.71 829.48 361.98 833.05 358.25 836.62 354.52 840.15 350.79 843.61 347.06 846.97 343.33 850.19 339.6 853.24 335.88 856.08 332.15 858.7 328.42 861.05 324.69 863.13 320.96 864.91 317.23 866.37 313.5 867.5 309.77 868.28 306.05 M797.82 423.24 798.6 419.51 799.73 415.79 801.19 412.06 802.97 408.33 805.05 404.6 807.4 400.87 810.02 397.14 812.86 393.41 815.91 389.68 819.13 385.95 822.49 382.23 825.95 378.5 829.48 374.77 833.05 371.04 836.62 367.31 840.15 363.58 843.61 359.85 846.97 356.12 850.19 352.39 853.24 348.67 856.08 344.94 858.7 341.21 861.05 337.48 863.13 333.75 864.91 330.02 866.37 326.29 867.5 322.56 868.28 318.84 M797.82 436.03 798.6 432.3 799.73 428.58 801.19 424.85 802.97 421.12 805.05 417.39 807.4 413.66 810.02 409.93 812.86 406.2 815.91 402.47 819.13 398.74 822.49 395.02 825.95 391.29 829.48 387.56 833.05 383.83 836.62 380.1 840.15 376.37 843.61 372.64 846.97 368.91 850.19 365.18 853.24 361.46 856.08 357.73 858.7 354 861.05 350.27 863.13 346.54 864.91 342.81 866.37 339.08 867.5 335.35 868.28 331.63 M797.82 448.82 798.6 445.09 799.73 441.37 801.19 437.64 802.97 433.91 805.05 430.18 807.4 426.45 810.02 422.72 812.86 418.99 815.91 415.26 819.13 411.53 822.49 407.81 825.95 404.08 829.48 400.35 833.05 396.62 836.62 392.89 840.15 389.16 843.61 385.43 846.97 381.7 850.19 377.97 853.24 374.25 856.08 370.52 858.7 366.79 861.05 363.06 863.13 359.33 864.91 355.6 866.37 351.87 867.5 348.14 868.28 344.42 M797.82 461.61 798.6 457.88 799.73 454.16 801.19 450.43 802.97 446.7 805.05 442.97 807.4 439.24 810.02 435.51 812.86 431.78 815.91 428.05 819.13 424.32 822.49 420.6 825.95 416.87 829.48 413.14 833.05 409.41 836.62 405.68 840.15 401.95 843.61 398.22 846.97 394.49 850.19 390.76 853.24 387.04 856.08 383.31 858.7 379.58 861.05 375.85 863.13 372.12 864.91 368.39 866.37 364.66 867.5 360.93 868.28 357.21 M797.82 474.4 798.6 470.67 799.73 466.95 801.19 463.22 802.97 459.49 805.05 455.76 807.4 452.03 810.02 448.3 812.86 444.57 815.91 440.84 819.13 437.11 822.49 433.39 825.95 429.66 829.48 425.93 833.05 422.2 836.62 418.47 840.15 414.74 843.61 411.01 846.97 407.28 850.19 403.55 853.24 399.83 856.08 396.1 858.7 392.37 861.05 388.64 863.13 384.91 864.91 381.18 866.37 377.45 867.5 373.72 868.28 370 M797.82 487.19 798.6 483.46 799.73 479.74 801.19 476.01 802.97 472.28 805.05 468.55 807.4 464.82 810.02 461.09 812.86 457.36 815.91 453.63 819.13 449.9 822.49 446.18 825.95 442.45 829.48 438.72 833.05 434.99 836.62 431.26 840.15 427.53 843.61 423.8 846.97 420.07 850.19 416.34 853.24 412.62 856.08 408.89 858.7 405.16 861.05 401.43 863.13 397.7 864.91 393.97 866.37 390.24 867.5 386.51 868.28 382.79 M797.82 499.98 798.6 496.25 799.73 492.53 801.19 488.8 802.97 485.07 805.05 481.34 807.4 477.61 810.02 473.88 812.86 470.15 815.91 466.42 819.13 462.69 822.49 458.97 825.95 455.24 829.48 451.51 833.05 447.78 836.62 444.05 840.15 440.32 843.61 436.59 846.97 432.86 850.19 429.13 853.24 425.41 856.08 421.68 858.7 417.95 861.05 414.22 863.13 410.49 864.91 406.76 866.37 403.03 867.5 399.3 868.28 395.58 M797.82 512.77 798.6 509.04 799.73 505.32 801.19 501.59 802.97 497.86 805.05 494.13 807.4 490.4 810.02 486.67 812.86 482.94 815.91 479.21 819.13 475.48 822.49 471.76 825.95 468.03 829.48 464.3 833.05 460.57 836.62 456.84 840.15 453.11 843.61 449.38 846.97 445.65 850.19 441.92 853.24 438.2 856.08 434.47 858.7 430.74 861.05 427.01 863.13 423.28 864.91 419.55 866.37 415.82 867.5 412.09 868.28 408.37 M797.82 525.56 798.6 521.83 799.73 518.11 801.19 514.38 802.97 510.65 805.05 506.92 807.4 503.19 810.02 499.46 812.86 495.73 815.91 492 819.13 488.27 822.49 484.55 825.95 480.82 829.48 477.09 833.05 473.36 836.62 469.63 840.15 465.9 843.61 462.17 846.97 458.44 850.19 454.71 853.24 450.99 856.08 447.26 858.7 443.53 861.05 439.8 863.13 436.07 864.91 432.34 866.37 428.61 867.5 424.88 868.28 421.16 M797.82 538.35 798.6 534.62 799.73 530.9 801.19 527.17 802.97 523.44 805.05 519.71 807.4 515.98 810.02 512.25 812.86 508.52 815.91 504.79 819.13 501.06 822.49 497.34 825.95 493.61 829.48 489.88 833.05 486.15 836.62 482.42 840.15 478.69 843.61 474.96 846.97 471.23 850.19 467.5 853.24 463.78 856.08 460.05 858.7 456.32 861.05 452.59 863.13 448.86 864.91 445.13 866.37 441.4 867.5 437.67 868.28 433.95 M797.82 551.14 798.6 547.41 799.73 543.69 801.19 539.96 802.97 536.23 805.05 532.5 807.4 528.77 810.02 525.04 812.86 521.31 815.91 517.58 819.13 513.85 822.49 510.13 825.95 506.4 829.48 502.67 833.05 498.94 836.62 495.21 840.15 491.48 843.61 487.75 846.97 484.02 850.19 480.29 853.24 476.57 856.08 472.84 858.7 469.11 861.05 465.38 863.13 461.65 864.91 457.92 866.37 454.19 867.5 450.46 868.28 446.74 M797.82 563.93 798.6 560.2 799.73 556.48 801.19 552.75 802.97 549.02 805.05 545.29 807.4 541.56 810.02 537.83 812.86 534.1 815.91 530.37 819.13 526.64 822.49 522.92 825.95 519.19 829.48 515.46 833.05 511.73 836.62 508 840.15 504.27 843.61 500.54 846.97 496.81 850.19 493.08 853.24 489.36 856.08 485.63 858.7 481.9 861.05 478.17 863.13 474.44 864.91 470.71 866.37 466.98 867.5 463.25 868.28 459.53 M797.82 576.72 798.6 572.99 799.73 569.27 801.19 565.54 802.97 561.81 805.05 558.08 807.4 554.35 810.02 550.62 812.86 546.89 815.91 543.16 819.13 539.43 822.49 535.71 825.95 531.98 829.48 528.25 833.05 524.52 836.62 520.79 840.15 517.06 843.61 513.33 846.97 509.6 850.19 505.87 853.24 502.15 856.08 498.42 858.7 494.69 861.05 490.96 863.13 487.23 864.91 483.5 866.37 479.77 867.5 476.04 868.28 472.32 M797.82 589.51 798.6 585.78 799.73 582.06 801.19 578.33 802.97 574.6 805.05 570.87 807.4 567.14 810.02 563.41 812.86 559.68 815.91 555.95 819.13 552.22 822.49 548.5 825.95 544.77 829.48 541.04 833.05 537.31 836.62 533.58 840.15 529.85 843.61 526.12 846.97 522.39 850.19 518.66 853.24 514.94 856.08 511.21 858.7 507.48 861.05 503.75 863.13 500.02 864.91 496.29 866.37 492.56 867.5 488.83 868.28 485.11 M797.82 602.3 798.6 598.57 799.73 594.85 801.19 591.12 802.97 587.39 805.05 583.66 807.4 579.93 810.02 576.2 812.86 572.47 815.91 568.74 819.13 565.01 822.49 561.29 825.95 557.56 829.48 553.83 833.05 550.1 836.62 546.37 840.15 542.64 843.61 538.91 846.97 535.18 850.19 531.45 853.24 527.73 856.08 524 858.7 520.27 861.05 516.54 863.13 512.81 864.91 509.08 866.37 505.35 867.5 501.62 868.28 497.9 M797.82 615.09 798.6 611.36 799.73 607.64 801.19 603.91 802.97 600.18 805.05 596.45 807.4 592.72 810.02 588.99 812.86 585.26 815.91 581.53 819.13 577.8 822.49 574.08 825.95 570.35 829.48 566.62 833.05 562.89 836.62 559.16 840.15 555.43 843.61 551.7 846.97 547.97 850.19 544.24 853.24 540.52 856.08 536.79 858.7 533.06 861.05 529.33 863.13 525.6 864.91 521.87 866.37 518.14 867.5 514.41 868.28 510.69 M797.82 627.88 798.6 624.15 799.73 620.43 801.19 616.7 802.97 612.97 805.05 609.24 807.4 605.51 810.02 601.78 812.86 598.05 815.91 594.32 819.13 590.59 822.49 586.87 825.95 583.14 829.48 579.41 833.05 575.68 836.62 571.95 840.15 568.22 843.61 564.49 846.97 560.76 850.19 557.03 853.24 553.31 856.08 549.58 858.7 545.85 861.05 542.12 863.13 538.39 864.91 534.66 866.37 530.93 867.5 527.2 868.28 523.48 M797.82 640.67 798.6 636.94 799.73 633.22 801.19 629.49 802.97 625.76 805.05 622.03 807.4 618.3 810.02 614.57 812.86 610.84 815.91 607.11 819.13 603.38 822.49 599.66 825.95 595.93 829.48 592.2 833.05 588.47 836.62 584.74 840.15 581.01 843.61 577.28 846.97 573.55 850.19 569.82 853.24 566.1 856.08 562.37 858.7 558.64 861.05 554.91 863.13 551.18 864.91 547.45 866.37 543.72 867.5 539.99 868.28 536.27 M797.82 653.46 798.6 649.73 799.73 646.01 801.19 642.28 802.97 638.55 805.05 634.82 807.4 631.09 810.02 627.36 812.86 623.63 815.91 619.9 819.13 616.17 822.49 612.45 825.95 608.72 829.48 604.99 833.05 601.26 836.62 597.53 840.15 593.8 843.61 590.07 846.97 586.34 850.19 582.61 853.24 578.89 856.08 575.16 858.7 571.43 861.05 567.7 863.13 563.97 864.91 560.24 866.37 556.51 867.5 552.78 868.28 549.06 M797.82 666.25 798.6 662.52 799.73 658.8 801.19 655.07 802.97 651.34 805.05 647.61 807.4 643.88 810.02 640.15 812.86 636.42 815.91 632.69 819.13 628.96 822.49 625.24 825.95 621.51 829.48 617.78 833.05 614.05 836.62 610.32 840.15 606.59 843.61 602.86 846.97 599.13 850.19 595.4 853.24 591.68 856.08 587.95 858.7 584.22 861.05 580.49 863.13 576.76 864.91 573.03 866.37 569.3 867.5 565.57 868.28 561.85 M797.82 679.04 798.6 675.31 799.73 671.59 801.19 667.86 802.97 664.13 805.05 660.4 807.4 656.67 810.02 652.94 812.86 649.21 815.91 645.48 819.13 641.75 822.49 638.03 825.95 634.3 829.48 630.57 833.05 626.84 836.62 623.11 840.15 619.38 843.61 615.65 846.97 611.92 850.19 608.19 853.24 604.47 856.08 600.74 858.7 597.01 861.05 593.28 863.13 589.55 864.91 585.82 866.37 582.09 867.5 578.36 868.28 574.64 M797.82 691.83 798.6 688.1 799.73 684.38 801.19 680.65 802.97 676.92 805.05 673.19 807.4 669.46 810.02 665.73 812.86 662 815.91 658.27 819.13 654.54 822.49 650.82 825.95 647.09 829.48 643.36 833.05 639.63 836.62 635.9 840.15 632.17 843.61 628.44 846.97 624.71 850.19 620.98 853.24 617.26 856.08 613.53 858.7 609.8 861.05 606.07 863.13 602.34 864.91 598.61 866.37 594.88 867.5 591.15 868.28 587.43 M797.82 704.62 798.6 700.89 799.73 697.17 801.19 693.44 802.97 689.71 805.05 685.98 807.4 682.25 810.02 678.52 812.86 674.79 815.91 671.06 819.13 667.33 822.49 663.61 825.95 659.88 829.48 656.15 833.05 652.42 836.62 648.69 840.15 644.96 843.61 641.23 846.97 637.5 850.19 633.77 853.24 630.05 856.08 626.32 858.7 622.59 861.05 618.86 863.13 615.13 864.91 611.4 866.37 607.67 867.5 603.94 868.28 600.22 M797.82 717.41 798.6 713.68 799.73 709.96 801.19 706.23 802.97 702.5 805.05 698.77 807.4 695.04 810.02 691.31 812.86 687.58 815.91 683.85 819.13 680.12 822.49 676.4 825.95 672.67 829.48 668.94 833.05 665.21 836.62 661.48 840.15 657.75 843.61 654.02 846.97 650.29 850.19 646.56 853.24 642.84 856.08 639.11 858.7 635.38 861.05 631.65 863.13 627.92 864.91 624.19 866.37 620.46 867.5 616.73 868.28 613.01 M797.82 730.2 798.6 726.47 799.73 722.75 801.19 719.02 802.97 715.29 805.05 711.56 807.4 707.83 810.02 704.1 812.86 700.37 815.91 696.64 819.13 692.91 822.49 689.19 825.95 685.46 829.48 681.73 833.05 678 836.62 674.27 840.15 670.54 843.61 666.81 846.97 663.08 850.19 659.35 853.24 655.63 856.08 651.9 858.7 648.17 861.05 644.44 863.13 640.71 864.91 636.98 866.37 633.25 867.5 629.52 868.28 625.8 M797.82 742.99 798.6 739.26 799.73 735.54 801.19 731.81 802.97 728.08 805.05 724.35 807.4 720.62 810.02 716.89 812.86 713.16 815.91 709.43 819.13 705.7 822.49 701.98 825.95 698.25 829.48 694.52 833.05 690.79 836.62 687.06 840.15 683.33 843.61 679.6 846.97 675.87 850.19 672.14 853.24 668.42 856.08 664.69 858.7 660.96 861.05 657.23 863.13 653.5 864.91 649.77 866.37 646.04 867.5 642.31 868.28 638.59 M797.82 755.78 798.6 752.05 799.73 748.33 801.19 744.6 802.97 740.87 805.05 737.14 807.4 733.41 810.02 729.68 812.86 725.95 815.91 722.22 819.13 718.49 822.49 714.77 825.95 711.04 829.48 707.31 833.05 703.58 836.62 699.85 840.15 696.12 843.61 692.39 846.97 688.66 850.19 684.93 853.24 681.21 856.08 677.48 858.7 673.75 861.05 670.02 863.13 666.29 864.91 662.56 866.37 658.83 867.5 655.1 868.28 651.38 M797.82 768.57 798.6 764.84 799.73 761.12 801.19 757.39 802.97 753.66 805.05 749.93 807.4 746.2 810.02 742.47 812.86 738.74 815.91 735.01 819.13 731.28 822.49 727.56 825.95 723.83 829.48 720.1 833.05 716.37 836.62 712.64 840.15 708.91 843.61 705.18 846.97 701.45 850.19 697.72 853.24 694 856.08 690.27 858.7 686.54 861.05 682.81 863.13 679.08 864.91 675.35 866.37 671.62 867.5 667.89 868.28 664.17 M797.82 781.36 798.6 777.63 799.73 773.91 801.19 770.18 802.97 766.45 805.05 762.72 807.4 758.99 810.02 755.26 812.86 751.53 815.91 747.8 819.13 744.07 822.49 740.35 825.95 736.62 829.48 732.89 833.05 729.16 836.62 725.43 840.15 721.7 843.61 717.97 846.97 714.24 850.19 710.51 853.24 706.79 856.08 703.06 858.7 699.33 861.05 695.6 863.13 691.87 864.91 688.14 866.37 684.41 867.5 680.68 868.28 676.96 M797.82 794.15 798.6 790.42 799.73 786.7 801.19 782.97 802.97 779.24 805.05 775.51 807.4 771.78 810.02 768.05 812.86 764.32 815.91 760.59 819.13 756.86 822.49 753.14 825.95 749.41 829.48 745.68 833.05 741.95 836.62 738.22 840.15 734.49 843.61 730.76 846.97 727.03 850.19 723.3 853.24 719.58 856.08 715.85 858.7 712.12 861.05 708.39 863.13 704.66 864.91 700.93 866.37 697.2 867.5 693.47 868.28 689.75 M797.82 806.94 798.6 803.21 799.73 799.49 801.19 795.76 802.97 792.03 805.05 788.3 807.4 784.57 810.02 780.84 812.86 777.11 815.91 773.38 819.13 769.65 822.49 765.93 825.95 762.2 829.48 758.47 833.05 754.74 836.62 751.01 840.15 747.28 843.61 743.55 846.97 739.82 850.19 736.09 853.24 732.37 856.08 728.64 858.7 724.91 861.05 721.18 863.13 717.45 864.91 713.72 866.37 709.99 867.5 706.26 868.28 702.54 M797.82 819.73 798.6 816 799.73 812.28 801.19 808.55 802.97 804.82 805.05 801.09 807.4 797.36 810.02 793.63 812.86 789.9 815.91 786.17 819.13 782.44 822.49 778.72 825.95 774.99 829.48 771.26 833.05 767.53 836.62 763.8 840.15 760.07 843.61 756.34 846.97 752.61 850.19 748.88 853.24 745.16 856.08 741.43 858.7 737.7 861.05 733.97 863.13 730.24 864.91 726.51 866.37 722.78 867.5 719.05 868.28 715.33 M797.82 832.52 798.6 828.79 799.73 825.07 801.19 821.34 802.97 817.61 805.05 813.88 807.4 810.15 810.02 806.42 812.86 802.69 815.91 798.96 819.13 795.23 822.49 791.51 825.95 787.78 829.48 784.05 833.05 780.32 836.62 776.59 840.15 772.86 843.61 769.13 846.97 765.4 850.19 761.67 853.24 757.95 856.08 754.22 858.7 750.49 861.05 746.76 863.13 743.03 864.91 739.3 866.37 735.57 867.5 731.84 868.28 728.12 M797.82 845.31 798.6 841.58 799.73 837.86 801.19 834.13 802.97 830.4 805.05 826.67 807.4 822.94 810.02 819.21 812.86 815.48 815.91 811.75 819.13 808.02 822.49 804.3 825.95 800.57 829.48 796.84 833.05 793.11 836.62 789.38 840.15 785.65 843.61 781.92 846.97 778.19 850.19 774.46 853.24 770.74 856.08 767.01 858.7 763.28 861.05 759.55 863.13 755.82 864.91 752.09 866.37 748.36 867.5 744.63 868.28 740.91 M797.82 858.1 798.6 854.37 799.73 850.65 801.19 846.92 802.97 843.19 805.05 839.46 807.4 835.73 810.02 832 812.86 828.27 815.91 824.54 819.13 820.81 822.49 817.09 825.95 813.36 829.48 809.63 833.05 805.9 836.62 802.17 840.15 798.44 843.61 794.71 846.97 790.98 850.19 787.25 853.24 783.53 856.08 779.8 858.7 776.07 861.05 772.34 863.13 768.61 864.91 764.88 866.37 761.15 867.5 757.42 868.28 753.7 M797.82 870.89 798.6 867.16 799.73 863.44 801.19 859.71 802.97 855.98 805.05 852.25 807.4 848.52 810.02 844.79 812.86 841.06 815.91 837.33 819.13 833.6 822.49 829.88 825.95 826.15 829.48 822.42 833.05 818.69 836.62 814.96 840.15 811.23 843.61 807.5 846.97 803.77 850.19 800.04 853.24 796.32 856.08 792.59 858.7 788.86 861.05 785.13 863.13 781.4 864.91 777.67 866.37 773.94 867.5 770.21 868.28 766.49 M797.82 883.68 798.6 879.95 799.73 876.23 801.19 872.5 802.97 868.77 805.05 865.04 807.4 861.31 810.02 857.58 812.86 853.85 815.91 850.12 819.13 846.39 822.49 842.67 825.95 838.94 829.48 835.21 833.05 831.48 836.62 827.75 840.15 824.02 843.61 820.29 846.97 816.56 850.19 812.83 853.24 809.11 856.08 805.38 858.7 801.65 861.05 797.92 863.13 794.19 864.91 790.46 866.37 786.73 867.5 783 868.28 779.28 M797.82 896.47 798.6 892.74 799.73 889.02 801.19 885.29 802.97 881.56 805.05 877.83 807.4 874.1 810.02 870.37 812.86 866.64 815.91 862.91 819.13 859.18 822.49 855.46 825.95 851.73 829.48 848 833.05 844.27 836.62 840.54 840.15 836.81 843.61 833.08 846.97 829.35 850.19 825.62 853.24 821.9 856.08 818.17 858.7 814.44 861.05 810.71 863.13 806.98 864.91 803.25 866.37 799.52 867.5 795.79 868.28 792.07 M797.82 909.26 798.6 905.53 799.73 901.81 801.19 898.08 802.97 894.35 805.05 890.62 807.4 886.89 810.02 883.16 812.86 879.43 815.91 875.7 819.13 871.97 822.49 868.25 825.95 864.52 829.48 860.79 833.05 857.06 836.62 853.33 840.15 849.6 843.61 845.87 846.97 842.14 850.19 838.41 853.24 834.69 856.08 830.96 858.7 827.23 861.05 823.5 863.13 819.77 864.91 816.04 866.37 812.31 867.5 808.58 868.28 804.86 M797.82 922.05 798.6 918.32 799.73 914.6 801.19 910.87 802.97 907.14 805.05 903.41 807.4 899.68 810.02 895.95 812.86 892.22 815.91 888.49 819.13 884.76 822.49 881.04 825.95 877.31 829.48 873.58 833.05 869.85 836.62 866.12 840.15 862.39 843.61 858.66 846.97 854.93 850.19 851.2 853.24 847.48 856.08 843.75 858.7 840.02 861.05 836.29 863.13 832.56 864.91 828.83 866.37 825.1 867.5 821.37 868.28 817.65"/></g></g>
<g fill="none" stroke="#111"><line x1="226.3" y1="357" x2="226.3" y2="821.9" stroke-width="1.5"/><line x1="297.8" y1="357" x2="297.8" y2="821.9" stroke-width="1.4"/><line x1="445.8" y1="357" x2="445.8" y2="821.9" stroke-width="1.5"/><line x1="517.3" y1="357" x2="517.3" y2="821.9" stroke-width="1.4"/><line x1="797.3" y1="357" x2="797.3" y2="821.9" stroke-width="1.5"/><line x1="868.8" y1="357" x2="868.8" y2="821.9" stroke-width="1.4"/><line x1="226.3" y1="357" x2="297.8" y2="357" stroke-width="1.4" stroke="#333"/><line x1="226.3" y1="821.9" x2="297.8" y2="821.9" stroke-width="1.4" stroke="#333"/><line x1="445.8" y1="357" x2="520.8" y2="357" stroke-width="1.4" stroke="#333"/><line x1="445.8" y1="821.9" x2="520.8" y2="821.9" stroke-width="1.4" stroke="#333"/><line x1="793.8" y1="357" x2="868.8" y2="357" stroke-width="1.4" stroke="#333"/><line x1="793.8" y1="821.9" x2="868.8" y2="821.9" stroke-width="1.4" stroke="#333"/></g>
<g fill="#111" font-family="&apos;Liberation Sans&apos;, sans-serif" font-size="33" text-anchor="middle"><text x="0" y="0" transform="translate(579 130.3) scale(1.03 1)">43</text><text x="0" y="0" transform="translate(735 130.3) scale(1.02 1)">43</text><text x="0" y="0" transform="translate(261.7 1070) scale(1.07 1)">20</text><text x="0" y="0" transform="translate(545.9 1069.6) scale(1.01 1)">64.5</text><text x="0" y="0" transform="translate(769 1069.6)">64.5</text><text x="0" y="0" transform="translate(153.6 589.4) rotate(-90) scale(1.03 1)">250</text><text x="0" y="0" transform="translate(698.6 590.2) rotate(-90) scale(0.97 1)">150</text><text x="0" y="0" transform="translate(1063.4 589) rotate(-90) scale(1.08 1)">200</text><text x="0" y="0" transform="translate(953.8 281) rotate(-90)">25</text><text x="0" y="0" transform="translate(954 899.2) rotate(-90)">25</text></g>
</svg>
</body></html>
